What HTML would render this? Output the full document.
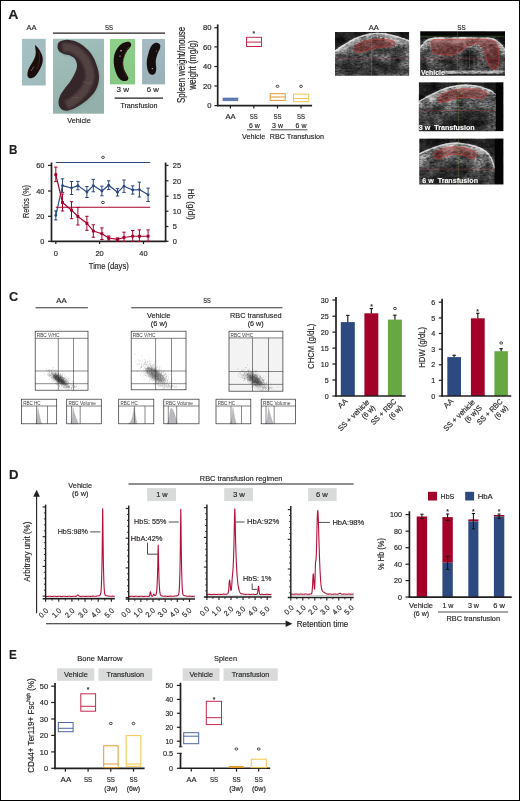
<!DOCTYPE html>
<html lang="en">
<head>
<meta charset="utf-8">
<title>Figure: RBC transfusion in SS mice</title>
<style>
html,body{margin:0;padding:0;background:#fff;}
body{width:520px;height:801px;overflow:hidden;}
svg{display:block;will-change:transform;opacity:0.999;font-family:"Liberation Sans",sans-serif;fill:#231f20;}
svg text{white-space:pre;stroke:#231f20;stroke-width:0.16px;}
svg text.w{stroke:#fff;stroke-width:0.12px;}
svg text.s{stroke:none;}
</style>
</head>
<body>
<svg width="520" height="801" viewBox="0 0 520 801">
<defs>
  <filter id="b03" x="-10%" y="-10%" width="120%" height="120%"><feGaussianBlur stdDeviation="0.3"/></filter>
  <filter id="b05" x="-10%" y="-10%" width="120%" height="120%"><feGaussianBlur stdDeviation="0.5"/></filter>
  <filter id="b1" x="-20%" y="-20%" width="140%" height="140%"><feGaussianBlur stdDeviation="1"/></filter>
  <filter id="b2" x="-30%" y="-30%" width="160%" height="160%"><feGaussianBlur stdDeviation="2"/></filter>
  <filter id="b4" x="-40%" y="-40%" width="180%" height="180%"><feGaussianBlur stdDeviation="4"/></filter>
  <!-- ultrasound speckle: grey fractal noise -->
  <filter id="speckle" x="0" y="0" width="100%" height="100%" color-interpolation-filters="sRGB">
    <feTurbulence type="fractalNoise" baseFrequency="0.33 0.62" numOctaves="3" seed="11" result="n"/>
    <feColorMatrix in="n" type="matrix" values="0.85 0.85 0.85 0 -0.775  0.85 0.85 0.85 0 -0.775  0.85 0.85 0.85 0 -0.775  0 0 0 0 1"/>
  </filter>
  <filter id="speckle2" x="0" y="0" width="100%" height="100%" color-interpolation-filters="sRGB">
    <feTurbulence type="fractalNoise" baseFrequency="0.3 0.58" numOctaves="3" seed="29" result="n"/>
    <feColorMatrix in="n" type="matrix" values="0.85 0.85 0.85 0 -0.775  0.85 0.85 0.85 0 -0.775  0.85 0.85 0.85 0 -0.775  0 0 0 0 1"/>
  </filter>
  <filter id="blotch" x="0" y="0" width="100%" height="100%" color-interpolation-filters="sRGB">
    <feTurbulence type="fractalNoise" baseFrequency="0.07 0.11" numOctaves="2" seed="5" result="n"/>
    <feColorMatrix in="n" type="matrix" values="1.1 1.1 1.1 0 -1.15  1.1 1.1 1.1 0 -1.15  1.1 1.1 1.1 0 -1.15  0 0 0 0 1"/>
  </filter>
  <pattern id="hatch" width="1.7" height="1.7" patternUnits="userSpaceOnUse" patternTransform="rotate(32)">
    <rect width="1.7" height="1.7" fill="#5c1a1c" fill-opacity="0.3"/>
    <line x1="0" y1="0.85" x2="1.7" y2="0.85" stroke="#c83232" stroke-width="0.36" stroke-opacity="0.7"/>
    <line x1="0.85" y1="0" x2="0.85" y2="1.7" stroke="#8c2020" stroke-width="0.32" stroke-opacity="0.6"/>
  </pattern>
  <linearGradient id="gTis" x1="0" y1="0" x2="0" y2="1">
    <stop offset="0" stop-color="#787878"/><stop offset="0.35" stop-color="#5a5a5a"/><stop offset="0.7" stop-color="#474747"/><stop offset="1" stop-color="#3c3c3c"/>
  </linearGradient>
  <linearGradient id="gAA" x1="0" y1="0" x2="1" y2="1">
    <stop offset="0" stop-color="#a6c1c3"/><stop offset="1" stop-color="#a0babc"/>
  </linearGradient>
  <linearGradient id="gVeh" x1="0" y1="0" x2="0.3" y2="1">
    <stop offset="0" stop-color="#a3c0bd"/><stop offset="1" stop-color="#93b1aa"/>
  </linearGradient>
  <linearGradient id="g3w" x1="0" y1="0" x2="0.2" y2="1">
    <stop offset="0" stop-color="#8ed18b"/><stop offset="1" stop-color="#86c884"/>
  </linearGradient>
  <linearGradient id="g6w" x1="0" y1="0" x2="0.2" y2="1">
    <stop offset="0" stop-color="#a3bbc1"/><stop offset="1" stop-color="#9bb2b8"/>
  </linearGradient>
  <radialGradient id="gSpl" cx="0.55" cy="0.45" r="0.6">
    <stop offset="0" stop-color="#3d2b2c"/><stop offset="0.6" stop-color="#2c1c1e"/><stop offset="1" stop-color="#1e1214"/>
  </radialGradient>
</defs>

<rect x="0" y="0" width="520" height="801" fill="#fff"/>
<!-- Panel A -->
<text x="8.2" y="19.3" font-size="12.2" textLength="10.2" lengthAdjust="spacingAndGlyphs" font-weight="bold">A</text>
<text x="26.5" y="30.2" font-size="7.6" textLength="10" lengthAdjust="spacingAndGlyphs">AA</text>
<text x="105" y="30.2" font-size="7.6" textLength="8" lengthAdjust="spacingAndGlyphs">SS</text>
<line x1="52.9" y1="33.1" x2="165" y2="33.1" stroke="#231f20" stroke-width="1.3"/>
<rect x="22" y="38.8" width="23.7" height="46.7" fill="url(#gAA)"/>
<path d="M35.2 45.2C35.58 45.12 36.75 46.45 37.6 47.5C38.45 48.55 39.5 50 40.3 51.5C41.1 53 42 54.83 42.4 56.5C42.8 58.17 42.93 59.75 42.7 61.5C42.47 63.25 41.78 65.17 41 67C40.22 68.83 39.08 70.87 38 72.5C36.92 74.13 35.75 75.83 34.5 76.8C33.25 77.77 31.62 78.35 30.5 78.3C29.38 78.25 28.28 77.47 27.8 76.5C27.32 75.53 27.35 74 27.6 72.5C27.85 71 28.52 69.17 29.3 67.5C30.08 65.83 31.38 64.17 32.3 62.5C33.22 60.83 34.22 59.17 34.8 57.5C35.38 55.83 35.72 54.08 35.8 52.5C35.88 50.92 35.4 49.22 35.3 48C35.2 46.78 34.82 45.28 35.2 45.2Z" fill="#1d0c11" filter="url(#b05)"/>
<path d="M38.6 52 C40.6 57 40 63 36.5 69" stroke="#4d2c33" stroke-width="1" fill="none" opacity="0.75" filter="url(#b05)"/>
<path d="M31 71 L34 66.5" stroke="#bfb0b4" stroke-width="0.6" fill="none" opacity="0.8" filter="url(#b03)"/>
<rect x="53" y="38.8" width="51" height="74.9" fill="url(#gVeh)"/>
<g transform="translate(45 30) scale(0.25)">
<path d="M50 66C50.33 59.83 51 51.5 58 47C65 42.5 78.33 37.83 92 39C105.67 40.17 124.67 44.83 140 54C155.33 63.17 172.5 78.33 184 94C195.5 109.67 203.67 131 209 148C214.33 165 217.17 180.33 216 196C214.83 211.67 210.33 227.67 202 242C193.67 256.33 179.33 270.5 166 282C152.67 293.5 135.33 304.17 122 311C108.67 317.83 95.83 322.5 86 323C76.17 323.5 68.33 319.33 63 314C57.67 308.67 54.5 299.33 54 291C53.5 282.67 56.33 272.83 60 264C63.67 255.17 69.67 247 76 238C82.33 229 91 220.33 98 210C105 199.67 113 187 118 176C123 165 127.67 154 128 144C128.33 134 124.67 123 120 116C115.33 109 107.33 105.33 100 102C92.67 98.67 83.33 99 76 96C68.67 93 60.33 89 56 84C51.67 79 49.67 72.17 50 66Z" fill="#7f9a95" opacity="0.55" transform="translate(5 6)" filter="url(#b4)"/>
<path d="M50 66C50.33 59.83 51 51.5 58 47C65 42.5 78.33 37.83 92 39C105.67 40.17 124.67 44.83 140 54C155.33 63.17 172.5 78.33 184 94C195.5 109.67 203.67 131 209 148C214.33 165 217.17 180.33 216 196C214.83 211.67 210.33 227.67 202 242C193.67 256.33 179.33 270.5 166 282C152.67 293.5 135.33 304.17 122 311C108.67 317.83 95.83 322.5 86 323C76.17 323.5 68.33 319.33 63 314C57.67 308.67 54.5 299.33 54 291C53.5 282.67 56.33 272.83 60 264C63.67 255.17 69.67 247 76 238C82.33 229 91 220.33 98 210C105 199.67 113 187 118 176C123 165 127.67 154 128 144C128.33 134 124.67 123 120 116C115.33 109 107.33 105.33 100 102C92.67 98.67 83.33 99 76 96C68.67 93 60.33 89 56 84C51.67 79 49.67 72.17 50 66Z" fill="#34272a" filter="url(#b2)"/>
<path d="M70 70 C120 62 175 110 180 180 C180 230 130 280 85 300" stroke="#5a4946" stroke-width="36" fill="none" opacity="0.8" filter="url(#b4)"/>
<path d="M150 205 C165 215 180 215 190 208" stroke="#7a6258" stroke-width="3" fill="none" opacity="0.7" filter="url(#b2)"/>
<path d="M108 272 C118 268 128 268 136 272" stroke="#7a6258" stroke-width="3" fill="none" opacity="0.7" filter="url(#b2)"/>
</g>
<text x="67.3" y="123" font-size="7.6" textLength="23.5" lengthAdjust="spacingAndGlyphs">Vehicle</text>
<rect x="110" y="39" width="25" height="45.4" fill="url(#g3w)"/>
<g transform="translate(105 35) scale(0.125)">
<path d="M172 56C183.67 52.83 189.83 54.17 196 57C202.17 59.83 208.17 66.17 209 73C209.83 79.83 207.17 87.67 201 98C194.83 108.33 180.83 119.67 172 135C163.17 150.33 151.83 168.83 148 190C144.17 211.17 144.33 240.33 149 262C153.67 283.67 169.67 305.83 176 320C182.33 334.17 187.83 339.33 187 347C186.17 354.67 178.83 363 171 366C163.17 369 151.17 370.17 140 365C128.83 359.83 114.33 351.17 104 335C93.67 318.83 83.67 291.33 78 268C72.33 244.67 68.67 218.33 70 195C71.33 171.67 76.67 147.83 86 128C95.33 108.17 111.67 88 126 76C140.33 64 160.33 59.17 172 56Z" fill="#16080b" filter="url(#b4)"/>
<path d="M190 96 C172 120 154 152 150 188" stroke="#6a3a30" stroke-width="7" fill="none" opacity="0.8" filter="url(#b2)"/>
<path d="M140 215 C138 255 152 300 176 338" stroke="#5a2e28" stroke-width="7" fill="none" opacity="0.7" filter="url(#b2)"/>
<circle cx="128" cy="126" r="6" fill="#e8e4e4" filter="url(#b2)"/>
<circle cx="120" cy="168" r="5" fill="#cfc6c6" filter="url(#b2)"/>
</g>
<rect x="142.1" y="39" width="22.9" height="45.4" fill="url(#g6w)"/>
<g transform="translate(105 35) scale(0.125)">
<path d="M400 64C410 59.67 421 62.67 428 66C435 69.33 440.33 76.33 442 84C443.67 91.67 441.67 100.67 438 112C434.33 123.33 425.33 136 420 152C414.67 168 407.67 188.33 406 208C404.33 227.67 410.67 254 410 270C409.33 286 406.67 296 402 304C397.33 312 389 316.67 382 318C375 319.33 366.67 318 360 312C353.33 306 346.33 298.17 342 282C337.67 265.83 333 237.83 334 215C335 192.17 342.33 165.5 348 145C353.67 124.5 359.33 105.5 368 92C376.67 78.5 390 68.33 400 64Z" fill="#18080d" filter="url(#b4)"/>
<circle cx="378" cy="268" r="5" fill="#d9d0d2" filter="url(#b2)"/>
<circle cx="412" cy="128" r="4" fill="#a89a9c" filter="url(#b2)"/>
</g>
<text x="116.5" y="92" font-size="7.6" textLength="12.5" lengthAdjust="spacingAndGlyphs">3 w</text>
<text x="146.7" y="92" font-size="7.6" textLength="12.1" lengthAdjust="spacingAndGlyphs">6 w</text>
<line x1="114.6" y1="98.1" x2="163" y2="98.1" stroke="#231f20" stroke-width="1.3"/>
<text x="120.4" y="108" font-size="7.6" textLength="37.1" lengthAdjust="spacingAndGlyphs">Transfusion</text>
<text transform="translate(184.6 103) rotate(-90)" font-size="10.3" textLength="76.2" lengthAdjust="spacingAndGlyphs">Spleen weight/mouse</text>
<text transform="translate(195.8 89.8) rotate(-90)" font-size="10.3" textLength="49.6" lengthAdjust="spacingAndGlyphs">weight (mg/g)</text>
<line x1="217.7" y1="24.4" x2="217.7" y2="106.25" stroke="#231f20" stroke-width="1.7"/>
<line x1="217.05" y1="105.6" x2="312.1" y2="105.6" stroke="#231f20" stroke-width="1.7"/>
<line x1="214.4" y1="27.7" x2="217.7" y2="27.7" stroke="#231f20" stroke-width="1.2"/>
<text x="211.6" y="30.35" font-size="7.4" text-anchor="end" textLength="8.5" lengthAdjust="spacingAndGlyphs">80</text>
<line x1="214.4" y1="46.9" x2="217.7" y2="46.9" stroke="#231f20" stroke-width="1.2"/>
<text x="211.6" y="49.55" font-size="7.4" text-anchor="end" textLength="8.5" lengthAdjust="spacingAndGlyphs">60</text>
<line x1="214.4" y1="66.5" x2="217.7" y2="66.5" stroke="#231f20" stroke-width="1.2"/>
<text x="211.6" y="69.15" font-size="7.4" text-anchor="end" textLength="8.5" lengthAdjust="spacingAndGlyphs">40</text>
<line x1="214.4" y1="86" x2="217.7" y2="86" stroke="#231f20" stroke-width="1.2"/>
<text x="211.6" y="88.65" font-size="7.4" text-anchor="end" textLength="8.5" lengthAdjust="spacingAndGlyphs">20</text>
<line x1="214.4" y1="105.6" x2="217.7" y2="105.6" stroke="#231f20" stroke-width="1.2"/>
<text x="211.6" y="108.25" font-size="7.4" text-anchor="end" textLength="4.25" lengthAdjust="spacingAndGlyphs">0</text>
<line x1="230.4" y1="105.6" x2="230.4" y2="108.5" stroke="#231f20" stroke-width="1.2"/>
<line x1="253.8" y1="105.6" x2="253.8" y2="108.5" stroke="#231f20" stroke-width="1.2"/>
<line x1="277.5" y1="105.6" x2="277.5" y2="108.5" stroke="#231f20" stroke-width="1.2"/>
<line x1="301" y1="105.6" x2="301" y2="108.5" stroke="#231f20" stroke-width="1.2"/>
<rect x="223" y="98" width="14.9" height="2.8" fill="#5f7bb0" stroke="#4f6ca6" stroke-width="0.6"/>
<rect x="246.5" y="37.3" width="15" height="9.2" fill="none" stroke="#c4284f" stroke-width="1"/>
<line x1="246.5" y1="42.1" x2="261.5" y2="42.1" stroke="#c4284f" stroke-width="1"/>
<text x="253.8" y="35.5" font-size="6.8" text-anchor="middle" font-weight="bold" class="s">*</text>
<rect x="270.2" y="93.7" width="15" height="6.7" fill="none" stroke="#e29a2e" stroke-width="1"/>
<line x1="270.2" y1="97" x2="285.2" y2="97" stroke="#e29a2e" stroke-width="1"/>
<rect x="293.5" y="94.2" width="15.2" height="7.5" fill="none" stroke="#f1c74c" stroke-width="1"/>
<line x1="293.5" y1="98.5" x2="308.7" y2="98.5" stroke="#f1c74c" stroke-width="1"/>
<ellipse cx="277.5" cy="86.3" rx="1.45" ry="1.15" fill="none" stroke="#231f20" stroke-width="0.8"/>
<ellipse cx="301" cy="86.3" rx="1.45" ry="1.15" fill="none" stroke="#231f20" stroke-width="0.8"/>
<text x="225.4" y="119" font-size="7.6" textLength="10.2" lengthAdjust="spacingAndGlyphs">AA</text>
<text x="249.8" y="119" font-size="7.6" textLength="8" lengthAdjust="spacingAndGlyphs">SS</text>
<text x="273.5" y="119" font-size="7.6" textLength="8" lengthAdjust="spacingAndGlyphs">SS</text>
<text x="297" y="119" font-size="7.6" textLength="8" lengthAdjust="spacingAndGlyphs">SS</text>
<text x="248.9" y="128.3" font-size="7.6" textLength="10.8" lengthAdjust="spacingAndGlyphs">6 w</text>
<text x="272.1" y="128.3" font-size="7.6" textLength="10.8" lengthAdjust="spacingAndGlyphs">3 w</text>
<text x="295.6" y="128.3" font-size="7.6" textLength="10.8" lengthAdjust="spacingAndGlyphs">6 w</text>
<line x1="247" y1="129.8" x2="261" y2="129.8" stroke="#231f20" stroke-width="0.8"/>
<line x1="270.8" y1="129.8" x2="307.3" y2="129.8" stroke="#231f20" stroke-width="0.8"/>
<text x="242" y="138.5" font-size="7.6" textLength="23.4" lengthAdjust="spacingAndGlyphs">Vehicle</text>
<text x="269.8" y="138.5" font-size="7.6" textLength="54.2" lengthAdjust="spacingAndGlyphs">RBC Transfusion</text>
<text x="368.8" y="29.8" font-size="7.6" textLength="10" lengthAdjust="spacingAndGlyphs">AA</text>
<text x="457.3" y="29.8" font-size="7.6" textLength="8.3" lengthAdjust="spacingAndGlyphs">SS</text>
<clipPath id="cpa"><rect x="335" y="31.9" width="74.2" height="43.9"/></clipPath>
<g clip-path="url(#cpa)">
<rect x="335" y="31.9" width="74.2" height="43.9" fill="#1c1c1c"/>
<path d="M335 51.5C336.67 50.33 341.33 46.75 345 44.5C348.67 42.25 352.83 39.75 357 38C361.17 36.25 365.67 34.7 370 34C374.33 33.3 378.67 33.38 383 33.8C387.33 34.22 391.58 35.3 396 36.5C400.42 37.7 407.25 40.25 409.5 41L409.5 78.8 L335 78.8 Z" fill="url(#gTis)" filter="url(#b05)"/>
<ellipse cx="372" cy="68" rx="24" ry="6" fill="#262626" opacity="0.8" filter="url(#b2)"/>
<ellipse cx="350" cy="62" rx="10" ry="5" fill="#303030" opacity="0.6" filter="url(#b2)"/>
<ellipse cx="398" cy="55" rx="8" ry="8" fill="#333" opacity="0.5" filter="url(#b2)"/>
<ellipse cx="365" cy="55" rx="9" ry="3" fill="#2e2e2e" opacity="0.5" filter="url(#b2)"/>
<path d="M335 51.5C336.67 50.33 341.33 46.75 345 44.5C348.67 42.25 352.83 39.75 357 38C361.17 36.25 365.67 34.7 370 34C374.33 33.3 378.67 33.38 383 33.8C387.33 34.22 391.58 35.3 396 36.5C400.42 37.7 407.25 40.25 409.5 41" fill="none" stroke="#b0b0b0" stroke-width="5.5" opacity="0.55" filter="url(#b1)" transform="translate(0 2.6)"/>
<path d="M335 51.5C336.67 50.33 341.33 46.75 345 44.5C348.67 42.25 352.83 39.75 357 38C361.17 36.25 365.67 34.7 370 34C374.33 33.3 378.67 33.38 383 33.8C387.33 34.22 391.58 35.3 396 36.5C400.42 37.7 407.25 40.25 409.5 41" fill="none" stroke="#d4d4d4" stroke-width="1.5" filter="url(#b05)"/>
<rect x="335" y="31.9" width="74.2" height="43.9" filter="url(#blotch)" opacity="0.55" style="mix-blend-mode:overlay"/>
<rect x="335" y="31.9" width="74.2" height="43.9" filter="url(#speckle)" opacity="0.5" style="mix-blend-mode:overlay"/>
<path d="M353.5 49C353.5 47.5 355.58 44.95 358 43.5C360.42 42.05 364.17 41.05 368 40.3C371.83 39.55 377 38.97 381 39C385 39.03 389.67 39.75 392 40.5C394.33 41.25 395.33 42.5 395 43.5C394.67 44.5 392.83 45.83 390 46.5C387.17 47.17 381.83 46.83 378 47.5C374.17 48.17 370.33 49.67 367 50.5C363.67 51.33 360.25 52.75 358 52.5C355.75 52.25 353.5 50.5 353.5 49Z" fill="url(#hatch)" stroke="#d63c3c" stroke-width="0.7" stroke-opacity="0.9"/>
<line x1="371.5" y1="31.9" x2="371.5" y2="75.8" stroke="#6f9a4a" stroke-width="0.45" opacity="0.75"/>
<line x1="335" y1="58.3" x2="409.2" y2="58.3" stroke="#b04050" stroke-width="0.45" opacity="0.8"/>
</g>
<clipPath id="cpb"><rect x="420.2" y="31.3" width="84.8" height="44.5"/></clipPath>
<g clip-path="url(#cpb)">
<rect x="420.2" y="31.3" width="84.8" height="44.5" fill="#1c1c1c"/>
<path d="M420.2 48.5C420.83 47.58 422.62 44.48 424 43C425.38 41.52 426.5 40.4 428.5 39.6C430.5 38.8 430.75 38.48 436 38.2C441.25 37.92 451.83 37.93 460 37.9C468.17 37.87 479.58 37.85 485 38C490.42 38.15 490.25 38.13 492.5 38.8C494.75 39.47 496.75 40.63 498.5 42C500.25 43.37 501.83 45.5 503 47C504.17 48.5 505.08 50.33 505.5 51L505.5 78.8 L420.2 78.8 Z" fill="url(#gTis)" filter="url(#b05)"/>
<ellipse cx="471.5" cy="59" rx="7.5" ry="9.5" fill="#141414" opacity="0.9" filter="url(#b2)"/>
<ellipse cx="446" cy="64" rx="13" ry="4.5" fill="#2a2a2a" opacity="0.7" filter="url(#b2)"/>
<ellipse cx="502" cy="60" rx="3.5" ry="9" fill="#333" opacity="0.5" filter="url(#b2)"/>
<ellipse cx="426" cy="52" rx="4" ry="4" fill="#2c2c2c" opacity="0.5" filter="url(#b2)"/>
<rect x="444" y="70.6" width="62" height="3.4" fill="#b8b8b8" opacity="0.8" filter="url(#b05)"/>
<rect x="420" y="73.6" width="86" height="2.4" fill="#222" opacity="0.8"/>
<path d="M466 50V68M469.5 48V69M474 51V68M478 53V67" stroke="#9a9a9a" stroke-width="0.6" opacity="0.4" filter="url(#b03)"/>
<path d="M420.2 48.5C420.83 47.58 422.62 44.48 424 43C425.38 41.52 426.5 40.4 428.5 39.6C430.5 38.8 430.75 38.48 436 38.2C441.25 37.92 451.83 37.93 460 37.9C468.17 37.87 479.58 37.85 485 38C490.42 38.15 490.25 38.13 492.5 38.8C494.75 39.47 496.75 40.63 498.5 42C500.25 43.37 501.83 45.5 503 47C504.17 48.5 505.08 50.33 505.5 51" fill="none" stroke="#b0b0b0" stroke-width="5.5" opacity="0.55" filter="url(#b1)" transform="translate(0 2.6)"/>
<path d="M420.2 48.5C420.83 47.58 422.62 44.48 424 43C425.38 41.52 426.5 40.4 428.5 39.6C430.5 38.8 430.75 38.48 436 38.2C441.25 37.92 451.83 37.93 460 37.9C468.17 37.87 479.58 37.85 485 38C490.42 38.15 490.25 38.13 492.5 38.8C494.75 39.47 496.75 40.63 498.5 42C500.25 43.37 501.83 45.5 503 47C504.17 48.5 505.08 50.33 505.5 51" fill="none" stroke="#c8c8c8" stroke-width="1.2" filter="url(#b05)"/>
<rect x="420.2" y="31.3" width="84.8" height="44.5" filter="url(#blotch)" opacity="0.55" style="mix-blend-mode:overlay"/>
<rect x="420.2" y="31.3" width="84.8" height="44.5" filter="url(#speckle2)" opacity="0.5" style="mix-blend-mode:overlay"/>
<path d="M431.8 40.4C433.27 39.15 435.3 39.7 440 39.5C444.7 39.3 453.33 39.25 460 39.2C466.67 39.15 474.6 39 480 39.2C485.4 39.4 489.47 39.43 492.4 40.4C495.33 41.37 496.5 42.73 497.6 45C498.7 47.27 498.8 51 499 54C499.2 57 499.18 60.63 498.8 63C498.42 65.37 497.58 67.17 496.7 68.2C495.82 69.23 494.53 69.32 493.5 69.2C492.47 69.08 491.58 68.87 490.5 67.5C489.42 66.13 487.98 63.58 487 61C486.02 58.42 485.52 54.53 484.6 52C483.68 49.47 482.85 47.2 481.5 45.8C480.15 44.4 478.42 43.73 476.5 43.6C474.58 43.47 472.17 44.07 470 45C467.83 45.93 465.58 47.83 463.5 49.2C461.42 50.57 459.58 52.23 457.5 53.2C455.42 54.17 453.92 54.8 451 55C448.08 55.2 442.97 54.73 440 54.4C437.03 54.07 434.67 54.23 433.2 53C431.73 51.77 431.43 49.1 431.2 47C430.97 44.9 430.33 41.65 431.8 40.4Z" fill="url(#hatch)" stroke="#d63c3c" stroke-width="0.7" stroke-opacity="0.9"/>
<rect x="420.2" y="31.3" width="84.8" height="4.9" fill="#050505"/>
<line x1="420.2" y1="36.2" x2="505" y2="36.2" stroke="#4c7a30" stroke-width="0.4"/>
<line x1="457.7" y1="31.3" x2="457.7" y2="75.8" stroke="#3fa0a8" stroke-width="0.45" opacity="0.75"/>
<line x1="420.2" y1="58.8" x2="505" y2="58.8" stroke="#b04050" stroke-width="0.45" opacity="0.8"/>
</g>
<text x="421" y="75.4" font-size="7.2" textLength="23.8" lengthAdjust="spacingAndGlyphs" font-weight="bold" fill="#ffffff" class="w">Vehicle</text>
<clipPath id="cpc"><rect x="418.8" y="82.3" width="84.7" height="48.9"/></clipPath>
<g clip-path="url(#cpc)">
<rect x="418.8" y="82.3" width="84.7" height="48.9" fill="#1c1c1c"/>
<path d="M418.8 101.5C420.33 100.67 424.47 98.28 428 96.5C431.53 94.72 436 92.42 440 90.8C444 89.18 448 87.72 452 86.8C456 85.88 459.67 85.35 464 85.3C468.33 85.25 473.67 85.63 478 86.5C482.33 87.37 487 89.17 490 90.5C493 91.83 495 93.83 496 94.5L496 134.2 L418.8 134.2 Z" fill="url(#gTis)" filter="url(#b05)"/>
<ellipse cx="470" cy="118" rx="22" ry="8" fill="#262626" opacity="0.85" filter="url(#b2)"/>
<ellipse cx="436" cy="112" rx="12" ry="6" fill="#303030" opacity="0.6" filter="url(#b2)"/>
<ellipse cx="462" cy="104" rx="5" ry="4" fill="#2c2c2c" opacity="0.7" filter="url(#b2)"/>
<ellipse cx="448" cy="129" rx="32" ry="4.5" fill="#181818" opacity="0.8" filter="url(#b2)"/>
<path d="M418.8 101.5C420.33 100.67 424.47 98.28 428 96.5C431.53 94.72 436 92.42 440 90.8C444 89.18 448 87.72 452 86.8C456 85.88 459.67 85.35 464 85.3C468.33 85.25 473.67 85.63 478 86.5C482.33 87.37 487 89.17 490 90.5C493 91.83 495 93.83 496 94.5" fill="none" stroke="#b0b0b0" stroke-width="5.5" opacity="0.55" filter="url(#b1)" transform="translate(0 2.6)"/>
<path d="M418.8 101.5C420.33 100.67 424.47 98.28 428 96.5C431.53 94.72 436 92.42 440 90.8C444 89.18 448 87.72 452 86.8C456 85.88 459.67 85.35 464 85.3C468.33 85.25 473.67 85.63 478 86.5C482.33 87.37 487 89.17 490 90.5C493 91.83 495 93.83 496 94.5" fill="none" stroke="#d4d4d4" stroke-width="1.5" filter="url(#b05)"/>
<rect x="418.8" y="82.3" width="84.7" height="48.9" filter="url(#blotch)" opacity="0.55" style="mix-blend-mode:overlay"/>
<rect x="418.8" y="82.3" width="84.7" height="48.9" filter="url(#speckle)" opacity="0.5" style="mix-blend-mode:overlay"/>
<path d="M437.5 100C437.5 98.78 438.75 96.53 441 95C443.25 93.47 447.33 91.83 451 90.8C454.67 89.77 458.67 89.05 463 88.8C467.33 88.55 473.25 88.77 477 89.3C480.75 89.83 483.92 90.97 485.5 92C487.08 93.03 487.25 94.42 486.5 95.5C485.75 96.58 483.75 98.2 481 98.5C478.25 98.8 473.67 97.42 470 97.3C466.33 97.18 462.5 97.25 459 97.8C455.5 98.35 452 99.85 449 100.6C446 101.35 442.92 102.4 441 102.3C439.08 102.2 437.5 101.22 437.5 100Z" fill="url(#hatch)" stroke="#d63c3c" stroke-width="0.7" stroke-opacity="0.9"/>
<rect x="495.8" y="82.3" width="7.7" height="48.9" fill="#050505"/>
<line x1="458.3" y1="82.3" x2="458.3" y2="131.2" stroke="#6f9a4a" stroke-width="0.45" opacity="0.75"/>
<line x1="418.8" y1="110.6" x2="495.8" y2="110.6" stroke="#b04050" stroke-width="0.45" opacity="0.8"/>
</g>
<text x="418.8" y="129.8" font-size="7.2" textLength="55.8" lengthAdjust="spacingAndGlyphs" font-weight="bold" fill="#ffffff" class="w">3 w  Transfusion</text>
<clipPath id="cpd"><rect x="419.2" y="138.5" width="84.3" height="46.1"/></clipPath>
<g clip-path="url(#cpd)">
<rect x="419.2" y="138.5" width="84.3" height="46.1" fill="#1c1c1c"/>
<path d="M419.2 154C420.67 153.33 424.87 151.3 428 150C431.13 148.7 434.33 147.27 438 146.2C441.67 145.13 446 144.05 450 143.6C454 143.15 458 143.1 462 143.5C466 143.9 470.17 144.75 474 146C477.83 147.25 482.17 149 485 151C487.83 153 489.42 155.17 491 158C492.58 160.83 493.92 166.33 494.5 168L494.5 187.6 L419.2 187.6 Z" fill="url(#gTis)" filter="url(#b05)"/>
<ellipse cx="452" cy="172" rx="16" ry="9" fill="#222" opacity="0.85" filter="url(#b2)"/>
<ellipse cx="478" cy="176" rx="10" ry="6" fill="#2c2c2c" opacity="0.6" filter="url(#b2)"/>
<ellipse cx="430" cy="168" rx="8" ry="5" fill="#333" opacity="0.5" filter="url(#b2)"/>
<ellipse cx="452" cy="182.5" rx="32" ry="3.5" fill="#181818" opacity="0.7" filter="url(#b2)"/>
<path d="M419.2 154C420.67 153.33 424.87 151.3 428 150C431.13 148.7 434.33 147.27 438 146.2C441.67 145.13 446 144.05 450 143.6C454 143.15 458 143.1 462 143.5C466 143.9 470.17 144.75 474 146C477.83 147.25 482.17 149 485 151C487.83 153 489.42 155.17 491 158C492.58 160.83 493.92 166.33 494.5 168" fill="none" stroke="#b0b0b0" stroke-width="5.5" opacity="0.55" filter="url(#b1)" transform="translate(0 2.6)"/>
<path d="M419.2 154C420.67 153.33 424.87 151.3 428 150C431.13 148.7 434.33 147.27 438 146.2C441.67 145.13 446 144.05 450 143.6C454 143.15 458 143.1 462 143.5C466 143.9 470.17 144.75 474 146C477.83 147.25 482.17 149 485 151C487.83 153 489.42 155.17 491 158C492.58 160.83 493.92 166.33 494.5 168" fill="none" stroke="#d4d4d4" stroke-width="1.5" filter="url(#b05)"/>
<rect x="419.2" y="138.5" width="84.3" height="46.1" filter="url(#blotch)" opacity="0.55" style="mix-blend-mode:overlay"/>
<rect x="419.2" y="138.5" width="84.3" height="46.1" filter="url(#speckle2)" opacity="0.5" style="mix-blend-mode:overlay"/>
<path d="M433.5 156C433.25 154.75 434.58 152.8 436.5 151.5C438.42 150.2 441.75 148.98 445 148.2C448.25 147.42 452.33 146.8 456 146.8C459.67 146.8 463.83 147.33 467 148.2C470.17 149.07 473.5 150.62 475 152C476.5 153.38 476.5 155.37 476 156.5C475.5 157.63 474 158.97 472 158.8C470 158.63 466.83 156.25 464 155.5C461.17 154.75 458 154.22 455 154.3C452 154.38 448.83 155.22 446 156C443.17 156.78 440.08 159 438 159C435.92 159 433.75 157.25 433.5 156Z" fill="url(#hatch)" stroke="#d63c3c" stroke-width="0.7" stroke-opacity="0.9"/>
<rect x="494.8" y="138.5" width="8.7" height="46.1" fill="#050505"/>
<line x1="458.3" y1="138.5" x2="458.3" y2="184.6" stroke="#6f9a4a" stroke-width="0.45" opacity="0.75"/>
<line x1="419.2" y1="169.2" x2="494.8" y2="169.2" stroke="#b04050" stroke-width="0.45" opacity="0.8"/>
</g>
<text x="422.3" y="182.7" font-size="7.2" textLength="55.7" lengthAdjust="spacingAndGlyphs" font-weight="bold" fill="#ffffff" class="w">6 w  Transfusion</text>
<!-- Panel B -->
<text x="8.9" y="153.9" font-size="12.2" textLength="8.4" lengthAdjust="spacingAndGlyphs" font-weight="bold">B</text>
<line x1="51.5" y1="162.5" x2="51.5" y2="241.95" stroke="#231f20" stroke-width="1.7"/>
<line x1="50.85" y1="241.3" x2="166.25" y2="241.3" stroke="#231f20" stroke-width="1.7"/>
<line x1="165.6" y1="162.5" x2="165.6" y2="241.95" stroke="#231f20" stroke-width="1.7"/>
<line x1="48" y1="165.4" x2="51.5" y2="165.4" stroke="#231f20" stroke-width="1.2"/>
<text x="44.4" y="168.25" font-size="8" text-anchor="end" textLength="8.2" lengthAdjust="spacingAndGlyphs">60</text>
<line x1="48" y1="191" x2="51.5" y2="191" stroke="#231f20" stroke-width="1.2"/>
<text x="44.4" y="193.85" font-size="8" text-anchor="end" textLength="8.2" lengthAdjust="spacingAndGlyphs">40</text>
<line x1="48" y1="216.3" x2="51.5" y2="216.3" stroke="#231f20" stroke-width="1.2"/>
<text x="44.4" y="219.15" font-size="8" text-anchor="end" textLength="8.2" lengthAdjust="spacingAndGlyphs">20</text>
<line x1="48" y1="241.3" x2="51.5" y2="241.3" stroke="#231f20" stroke-width="1.2"/>
<text x="44.4" y="244.15" font-size="8" text-anchor="end" textLength="4.1" lengthAdjust="spacingAndGlyphs">0</text>
<line x1="165.6" y1="165.4" x2="168.5" y2="165.4" stroke="#231f20" stroke-width="1.2"/>
<text x="172.8" y="168.25" font-size="8" textLength="8.3" lengthAdjust="spacingAndGlyphs">25</text>
<line x1="165.6" y1="180.8" x2="168.5" y2="180.8" stroke="#231f20" stroke-width="1.2"/>
<text x="172.8" y="183.65" font-size="8" textLength="8.3" lengthAdjust="spacingAndGlyphs">20</text>
<line x1="165.6" y1="196.2" x2="168.5" y2="196.2" stroke="#231f20" stroke-width="1.2"/>
<text x="172.8" y="199.05" font-size="8" textLength="8.3" lengthAdjust="spacingAndGlyphs">15</text>
<line x1="165.6" y1="211.2" x2="168.5" y2="211.2" stroke="#231f20" stroke-width="1.2"/>
<text x="172.8" y="214.05" font-size="8" textLength="8.3" lengthAdjust="spacingAndGlyphs">10</text>
<line x1="165.6" y1="226.5" x2="168.5" y2="226.5" stroke="#231f20" stroke-width="1.2"/>
<text x="172.8" y="229.35" font-size="8" textLength="4.15" lengthAdjust="spacingAndGlyphs">5</text>
<line x1="165.6" y1="241.3" x2="168.5" y2="241.3" stroke="#231f20" stroke-width="1.2"/>
<text x="172.8" y="244.15" font-size="8" textLength="4.15" lengthAdjust="spacingAndGlyphs">0</text>
<line x1="55.8" y1="241.3" x2="55.8" y2="244" stroke="#231f20" stroke-width="1.2"/>
<text x="53.73" y="255.5" font-size="8" textLength="4.15" lengthAdjust="spacingAndGlyphs">0</text>
<line x1="99.6" y1="241.3" x2="99.6" y2="244" stroke="#231f20" stroke-width="1.2"/>
<text x="95.46" y="255.5" font-size="8" textLength="8.3" lengthAdjust="spacingAndGlyphs">20</text>
<line x1="143.5" y1="241.3" x2="143.5" y2="244" stroke="#231f20" stroke-width="1.2"/>
<text x="139.36" y="255.5" font-size="8" textLength="8.3" lengthAdjust="spacingAndGlyphs">40</text>
<text transform="translate(29.2 218) rotate(-90)" font-size="9.2" textLength="33" lengthAdjust="spacingAndGlyphs">Retics (%)</text>
<text transform="translate(187.5 188.8) rotate(90)" font-size="9.4" textLength="30.8" lengthAdjust="spacingAndGlyphs">Hb (g/dl)</text>
<text x="88.75" y="269.25" font-size="9.4" textLength="40" lengthAdjust="spacingAndGlyphs">Time (days)</text>
<line x1="55.8" y1="162.5" x2="150.2" y2="162.5" stroke="#2a477f" stroke-width="1.1"/>
<line x1="55.8" y1="207.3" x2="150.2" y2="207.3" stroke="#a8002d" stroke-width="1.1"/>
<ellipse cx="103" cy="157.3" rx="1.45" ry="1.15" fill="none" stroke="#231f20" stroke-width="0.8"/>
<ellipse cx="103" cy="202.5" rx="1.45" ry="1.15" fill="none" stroke="#231f20" stroke-width="0.8"/>
<polyline fill="none" stroke="#2a477f" stroke-width="1.15" stroke-linejoin="round" points="55.8,215.4 62.5,185.6 71.5,188 77.9,185.6 86.9,192 93.3,185.6 101.9,191 108.7,185.2 117.5,192.3 124,186.2 132.7,190 139.4,189.6 148.1,194.8"/>
<line x1="55.8" y1="210.9" x2="55.8" y2="219.9" stroke="#2a477f" stroke-width="1"/>
<line x1="54.1" y1="210.9" x2="57.5" y2="210.9" stroke="#2a477f" stroke-width="1"/>
<line x1="54.1" y1="219.9" x2="57.5" y2="219.9" stroke="#2a477f" stroke-width="1"/>
<circle cx="55.8" cy="215.4" r="1.4" fill="#2a477f"/>
<line x1="62.5" y1="178.8" x2="62.5" y2="192.4" stroke="#2a477f" stroke-width="1"/>
<line x1="60.8" y1="178.8" x2="64.2" y2="178.8" stroke="#2a477f" stroke-width="1"/>
<line x1="60.8" y1="192.4" x2="64.2" y2="192.4" stroke="#2a477f" stroke-width="1"/>
<circle cx="62.5" cy="185.6" r="1.4" fill="#2a477f"/>
<line x1="71.5" y1="181.5" x2="71.5" y2="194.5" stroke="#2a477f" stroke-width="1"/>
<line x1="69.8" y1="181.5" x2="73.2" y2="181.5" stroke="#2a477f" stroke-width="1"/>
<line x1="69.8" y1="194.5" x2="73.2" y2="194.5" stroke="#2a477f" stroke-width="1"/>
<circle cx="71.5" cy="188" r="1.4" fill="#2a477f"/>
<line x1="77.9" y1="181.4" x2="77.9" y2="189.8" stroke="#2a477f" stroke-width="1"/>
<line x1="76.2" y1="181.4" x2="79.6" y2="181.4" stroke="#2a477f" stroke-width="1"/>
<line x1="76.2" y1="189.8" x2="79.6" y2="189.8" stroke="#2a477f" stroke-width="1"/>
<circle cx="77.9" cy="185.6" r="1.4" fill="#2a477f"/>
<line x1="86.9" y1="186.5" x2="86.9" y2="197.5" stroke="#2a477f" stroke-width="1"/>
<line x1="85.2" y1="186.5" x2="88.6" y2="186.5" stroke="#2a477f" stroke-width="1"/>
<line x1="85.2" y1="197.5" x2="88.6" y2="197.5" stroke="#2a477f" stroke-width="1"/>
<circle cx="86.9" cy="192" r="1.4" fill="#2a477f"/>
<line x1="93.3" y1="179.4" x2="93.3" y2="191.8" stroke="#2a477f" stroke-width="1"/>
<line x1="91.6" y1="179.4" x2="95" y2="179.4" stroke="#2a477f" stroke-width="1"/>
<line x1="91.6" y1="191.8" x2="95" y2="191.8" stroke="#2a477f" stroke-width="1"/>
<circle cx="93.3" cy="185.6" r="1.4" fill="#2a477f"/>
<line x1="101.9" y1="186.2" x2="101.9" y2="195.8" stroke="#2a477f" stroke-width="1"/>
<line x1="100.2" y1="186.2" x2="103.6" y2="186.2" stroke="#2a477f" stroke-width="1"/>
<line x1="100.2" y1="195.8" x2="103.6" y2="195.8" stroke="#2a477f" stroke-width="1"/>
<circle cx="101.9" cy="191" r="1.4" fill="#2a477f"/>
<line x1="108.7" y1="180.8" x2="108.7" y2="189.6" stroke="#2a477f" stroke-width="1"/>
<line x1="107" y1="180.8" x2="110.4" y2="180.8" stroke="#2a477f" stroke-width="1"/>
<line x1="107" y1="189.6" x2="110.4" y2="189.6" stroke="#2a477f" stroke-width="1"/>
<circle cx="108.7" cy="185.2" r="1.4" fill="#2a477f"/>
<line x1="117.5" y1="188.6" x2="117.5" y2="196" stroke="#2a477f" stroke-width="1"/>
<line x1="115.8" y1="188.6" x2="119.2" y2="188.6" stroke="#2a477f" stroke-width="1"/>
<line x1="115.8" y1="196" x2="119.2" y2="196" stroke="#2a477f" stroke-width="1"/>
<circle cx="117.5" cy="192.3" r="1.4" fill="#2a477f"/>
<line x1="124" y1="180" x2="124" y2="192.4" stroke="#2a477f" stroke-width="1"/>
<line x1="122.3" y1="180" x2="125.7" y2="180" stroke="#2a477f" stroke-width="1"/>
<line x1="122.3" y1="192.4" x2="125.7" y2="192.4" stroke="#2a477f" stroke-width="1"/>
<circle cx="124" cy="186.2" r="1.4" fill="#2a477f"/>
<line x1="132.7" y1="185.9" x2="132.7" y2="194.1" stroke="#2a477f" stroke-width="1"/>
<line x1="131" y1="185.9" x2="134.4" y2="185.9" stroke="#2a477f" stroke-width="1"/>
<line x1="131" y1="194.1" x2="134.4" y2="194.1" stroke="#2a477f" stroke-width="1"/>
<circle cx="132.7" cy="190" r="1.4" fill="#2a477f"/>
<line x1="139.4" y1="182.2" x2="139.4" y2="197" stroke="#2a477f" stroke-width="1"/>
<line x1="137.7" y1="182.2" x2="141.1" y2="182.2" stroke="#2a477f" stroke-width="1"/>
<line x1="137.7" y1="197" x2="141.1" y2="197" stroke="#2a477f" stroke-width="1"/>
<circle cx="139.4" cy="189.6" r="1.4" fill="#2a477f"/>
<line x1="148.1" y1="188.1" x2="148.1" y2="201.5" stroke="#2a477f" stroke-width="1"/>
<line x1="146.4" y1="188.1" x2="149.8" y2="188.1" stroke="#2a477f" stroke-width="1"/>
<line x1="146.4" y1="201.5" x2="149.8" y2="201.5" stroke="#2a477f" stroke-width="1"/>
<circle cx="148.1" cy="194.8" r="1.4" fill="#2a477f"/>
<polyline fill="none" stroke="#a8002d" stroke-width="1.15" stroke-linejoin="round" points="55.8,174.6 62.5,202.5 71.5,210.2 77.9,216.5 86.9,223.3 93.3,231 101.9,233.7 108.7,238 117.5,239.4 124,237.5 132.7,236.2 139.4,236.2 148.1,236.2"/>
<line x1="55.8" y1="167.1" x2="55.8" y2="181.6" stroke="#a8002d" stroke-width="1"/>
<line x1="54.1" y1="167.1" x2="57.5" y2="167.1" stroke="#a8002d" stroke-width="1"/>
<line x1="54.1" y1="181.6" x2="57.5" y2="181.6" stroke="#a8002d" stroke-width="1"/>
<rect x="54.35" y="173.15" width="2.9" height="2.9" fill="#a8002d"/>
<line x1="62.5" y1="194" x2="62.5" y2="211" stroke="#a8002d" stroke-width="1"/>
<line x1="60.8" y1="194" x2="64.2" y2="194" stroke="#a8002d" stroke-width="1"/>
<line x1="60.8" y1="211" x2="64.2" y2="211" stroke="#a8002d" stroke-width="1"/>
<rect x="61.05" y="201.05" width="2.9" height="2.9" fill="#a8002d"/>
<line x1="71.5" y1="201.7" x2="71.5" y2="218.7" stroke="#a8002d" stroke-width="1"/>
<line x1="69.8" y1="201.7" x2="73.2" y2="201.7" stroke="#a8002d" stroke-width="1"/>
<line x1="69.8" y1="218.7" x2="73.2" y2="218.7" stroke="#a8002d" stroke-width="1"/>
<rect x="70.05" y="208.75" width="2.9" height="2.9" fill="#a8002d"/>
<line x1="77.9" y1="207.5" x2="77.9" y2="225" stroke="#a8002d" stroke-width="1"/>
<line x1="76.2" y1="207.5" x2="79.6" y2="207.5" stroke="#a8002d" stroke-width="1"/>
<line x1="76.2" y1="225" x2="79.6" y2="225" stroke="#a8002d" stroke-width="1"/>
<rect x="76.45" y="215.05" width="2.9" height="2.9" fill="#a8002d"/>
<line x1="86.9" y1="216.3" x2="86.9" y2="230.3" stroke="#a8002d" stroke-width="1"/>
<line x1="85.2" y1="216.3" x2="88.6" y2="216.3" stroke="#a8002d" stroke-width="1"/>
<line x1="85.2" y1="230.3" x2="88.6" y2="230.3" stroke="#a8002d" stroke-width="1"/>
<rect x="85.45" y="221.85" width="2.9" height="2.9" fill="#a8002d"/>
<line x1="93.3" y1="224.8" x2="93.3" y2="237.2" stroke="#a8002d" stroke-width="1"/>
<line x1="91.6" y1="224.8" x2="95" y2="224.8" stroke="#a8002d" stroke-width="1"/>
<line x1="91.6" y1="237.2" x2="95" y2="237.2" stroke="#a8002d" stroke-width="1"/>
<rect x="91.85" y="229.55" width="2.9" height="2.9" fill="#a8002d"/>
<line x1="101.9" y1="227.9" x2="101.9" y2="239.5" stroke="#a8002d" stroke-width="1"/>
<line x1="100.2" y1="227.9" x2="103.6" y2="227.9" stroke="#a8002d" stroke-width="1"/>
<line x1="100.2" y1="239.5" x2="103.6" y2="239.5" stroke="#a8002d" stroke-width="1"/>
<rect x="100.45" y="232.25" width="2.9" height="2.9" fill="#a8002d"/>
<line x1="108.7" y1="236" x2="108.7" y2="240" stroke="#a8002d" stroke-width="1"/>
<line x1="107" y1="236" x2="110.4" y2="236" stroke="#a8002d" stroke-width="1"/>
<line x1="107" y1="240" x2="110.4" y2="240" stroke="#a8002d" stroke-width="1"/>
<rect x="107.25" y="236.55" width="2.9" height="2.9" fill="#a8002d"/>
<line x1="117.5" y1="237.9" x2="117.5" y2="240.9" stroke="#a8002d" stroke-width="1"/>
<line x1="115.8" y1="237.9" x2="119.2" y2="237.9" stroke="#a8002d" stroke-width="1"/>
<line x1="115.8" y1="240.9" x2="119.2" y2="240.9" stroke="#a8002d" stroke-width="1"/>
<rect x="116.05" y="237.95" width="2.9" height="2.9" fill="#a8002d"/>
<line x1="124" y1="232.2" x2="124" y2="241.5" stroke="#a8002d" stroke-width="1"/>
<line x1="122.3" y1="232.2" x2="125.7" y2="232.2" stroke="#a8002d" stroke-width="1"/>
<line x1="122.3" y1="241.5" x2="125.7" y2="241.5" stroke="#a8002d" stroke-width="1"/>
<rect x="122.55" y="236.05" width="2.9" height="2.9" fill="#a8002d"/>
<line x1="132.7" y1="230.5" x2="132.7" y2="241.4" stroke="#a8002d" stroke-width="1"/>
<line x1="131" y1="230.5" x2="134.4" y2="230.5" stroke="#a8002d" stroke-width="1"/>
<line x1="131" y1="241.4" x2="134.4" y2="241.4" stroke="#a8002d" stroke-width="1"/>
<rect x="131.25" y="234.75" width="2.9" height="2.9" fill="#a8002d"/>
<line x1="139.4" y1="229.9" x2="139.4" y2="241.4" stroke="#a8002d" stroke-width="1"/>
<line x1="137.7" y1="229.9" x2="141.1" y2="229.9" stroke="#a8002d" stroke-width="1"/>
<line x1="137.7" y1="241.4" x2="141.1" y2="241.4" stroke="#a8002d" stroke-width="1"/>
<rect x="137.95" y="234.75" width="2.9" height="2.9" fill="#a8002d"/>
<line x1="148.1" y1="229.9" x2="148.1" y2="241.4" stroke="#a8002d" stroke-width="1"/>
<line x1="146.4" y1="229.9" x2="149.8" y2="229.9" stroke="#a8002d" stroke-width="1"/>
<line x1="146.4" y1="241.4" x2="149.8" y2="241.4" stroke="#a8002d" stroke-width="1"/>
<rect x="146.65" y="234.75" width="2.9" height="2.9" fill="#a8002d"/>
<!-- Panel C -->
<text x="8.9" y="300.9" font-size="12.2" textLength="9.2" lengthAdjust="spacingAndGlyphs" font-weight="bold">C</text>
<text x="56.3" y="302.7" font-size="7.6" textLength="10.4" lengthAdjust="spacingAndGlyphs">AA</text>
<line x1="35.6" y1="307.7" x2="87.9" y2="307.7" stroke="#3a3637" stroke-width="1.1"/>
<text x="203.3" y="302.7" font-size="7.6" textLength="7.5" lengthAdjust="spacingAndGlyphs">SS</text>
<line x1="131.2" y1="307.7" x2="282.5" y2="307.7" stroke="#3a3637" stroke-width="1.1"/>
<text x="147" y="318" font-size="7.6" textLength="23.6" lengthAdjust="spacingAndGlyphs">Vehicle</text>
<text x="150.8" y="326" font-size="7.6" textLength="16.5" lengthAdjust="spacingAndGlyphs">(6 w)</text>
<text x="230" y="318" font-size="7.6" textLength="51.5" lengthAdjust="spacingAndGlyphs">RBC transfused</text>
<text x="247.7" y="326" font-size="7.6" textLength="16" lengthAdjust="spacingAndGlyphs">(6 w)</text>
<rect x="35.2" y="331.2" width="52.8" height="59" fill="#fff"/>
<rect x="35.2" y="331.2" width="52.8" height="7.1" fill="#fff"/>
<clipPath id="sb1"><rect x="35.2" y="338.3" width="52.8" height="51.9"/></clipPath><g clip-path="url(#sb1)">
<ellipse cx="59.3" cy="379.3" rx="8" ry="2.88" transform="rotate(36 59.3 379.3)" fill="#3a3a3a" opacity="0.72" filter="url(#b1)"/>
<path d="M57.28 379.29h.45M58.56 377.86h.45M54.77 375.4h.45M64.48 384.27h.45M64.33 383.66h.45M61.09 381.13h.45M49.52 374.62h.45M61.25 382.13h.45M52.9 369.69h.45M55.33 375.08h.45M60.94 380.36h.45M62.87 380.06h.45M60.37 381.19h.45M53.55 380.01h.45M60.56 383.62h.45M57.09 375.59h.45M57.66 377.81h.45M62.24 382.14h.45M58.28 375.84h.45M54.95 379.61h.45M54.79 376.72h.45M63.52 378.13h.45M57.79 381.91h.45M49.3 371.12h.45M59.86 377.38h.45M61.96 381.06h.45M50.6 375.33h.45M61.49 383.58h.45M66.27 385.39h.45M61.67 377.33h.45M63.31 380.48h.45M58.67 375.24h.45M55.01 374.67h.45M68.72 380.37h.45M51.43 374.26h.45M65.99 385.81h.45M52.87 367.47h.45M62.15 379.27h.45M52.18 376.91h.45M64.79 383.74h.45M59.99 381.03h.45M66.72 386.45h.45M61.24 382.27h.45M49.45 375.79h.45M63.53 383.88h.45M49.94 370.7h.45M66.11 379.1h.45M56.97 380.5h.45M50.33 377.36h.45M62.36 381.1h.45M60.1 381.73h.45M58.37 381.88h.45M56.44 376.04h.45M64.66 383.27h.45M53.46 377.75h.45M67.49 383.99h.45M52.34 373.86h.45M58.93 378.18h.45M67.96 382.67h.45M67.54 381.68h.45M54.37 377.51h.45M63.98 385.14h.45M60.9 380.86h.45M59.31 380.94h.45M58.01 379.15h.45M62.26 381.46h.45M62.49 383.23h.45M69.27 387.47h.45M57.59 377h.45M57.98 380.97h.45M57.04 378.75h.45M72.28 381.44h.45M53.15 375.53h.45M61.04 381.24h.45M56.18 378.9h.45M61.47 379.39h.45M71.4 389.1h.45M56.56 377.03h.45M58.22 378.33h.45M45.83 368.13h.45M66.1 380.92h.45M57.67 380.82h.45M61.72 385.3h.45M50.97 372.24h.45M56.69 379.18h.45M68.58 378.42h.45M66.89 380.7h.45M64.85 379.09h.45M58.6 382.18h.45M58.27 379.09h.45M63.24 382.56h.45M56.77 381.82h.45M65.13 382.7h.45M75.06 387.49h.45M64.39 382.25h.45M59.03 381.11h.45M59.59 381.32h.45M53.43 370.75h.45M63.79 379.82h.45M55.97 372.7h.45M64.85 385.45h.45M68.19 383.1h.45M60.85 377.18h.45M61.12 385.14h.45M52.58 378.85h.45M64.66 382.69h.45M47.19 374.5h.45M59.62 377.82h.45M60.81 381.57h.45M68.44 383.04h.45M63.17 386.34h.45M67.06 384.43h.45M54.07 378.4h.45M59.73 379.96h.45M67.03 384.17h.45M47.93 369.94h.45M48.59 373.85h.45M61.77 379.36h.45M58.12 380.81h.45M57.92 382.07h.45M57.58 381.01h.45M64.85 387.91h.45M54.63 378.41h.45M51.05 370.23h.45M47.69 373.91h.45M52.94 374.64h.45M58.34 378.52h.45M55.92 377.51h.45M68.51 386.12h.45M60.7 383.16h.45M59.98 376.21h.45M54.97 379.21h.45M51.58 371.99h.45M63.44 384.56h.45M58.25 380.83h.45M61.75 377.73h.45M52.07 372.23h.45M64.84 381.72h.45M55.67 374.47h.45M51.53 373.32h.45M52.7 375.54h.45M46.64 371.03h.45M58.6 373.27h.45M63.42 381.51h.45M48.94 369.28h.45M61.43 379.54h.45M62.33 383.63h.45M62.31 382.41h.45M65.31 385.54h.45M64.45 377.12h.45M62.17 385.11h.45M58.4 377.31h.45M71.72 383.33h.45M58.45 385.57h.45M53.56 377.09h.45M69.23 386.17h.45M60.99 383.09h.45M54.73 375.73h.45M59.7 381.94h.45M59.39 378.81h.45M54.52 374.81h.45M63.78 382.84h.45M56.02 374.53h.45M71.57 391.45h.45M66.11 376.87h.45M61.87 382.53h.45M67.44 386.43h.45M58.24 380.02h.45M47.84 373.91h.45M61.93 379.22h.45M63.72 387.65h.45M52.94 372.78h.45M60.56 380.74h.45M58.55 375.99h.45M68.88 389.21h.45M54.93 372.3h.45M66.78 387.55h.45M67.63 387.66h.45M54.43 376.5h.45M49.13 369.78h.45M58.29 380.05h.45M55.7 376.33h.45M61.16 381.73h.45M62.32 382.09h.45M56.56 379.55h.45M60.67 377.95h.45M56.06 376.94h.45M58.52 379.18h.45M59.06 379.63h.45M60.31 376.45h.45M60.06 382.85h.45M61.81 380.58h.45M62.92 379.18h.45M49.4 372.28h.45M53.48 377.18h.45M57.24 370.33h.45M51.78 378.33h.45M59.17 375.32h.45M54.64 377.4h.45M61.63 381.5h.45M66.03 386.2h.45M58.38 380.33h.45M66.55 387.33h.45M66.06 381.14h.45M57.54 380.1h.45M56.32 380.17h.45M61.16 383.23h.45M54.76 383.24h.45M66.01 383.56h.45M56.26 384.47h.45M56.34 379.64h.45M64.37 383h.45M53 375.26h.45M59.63 382.75h.45M63.32 382.29h.45M62.99 383.52h.45M60.29 380.18h.45M57.11 379.66h.45M54.69 374.16h.45M61.3 376.59h.45M59.76 373.92h.45M55 377.79h.45M62.31 381.33h.45M60.01 375.79h.45M68.07 387.14h.45M66.15 381.77h.45M60.8 375.22h.45M62.08 383.98h.45M49.55 372.07h.45M64.95 378.39h.45M51.29 370.45h.45M57.94 374.32h.45M59.13 379.88h.45M61.63 382.99h.45M65.51 387.12h.45M53.19 373.42h.45M55.27 373.31h.45M58.87 379h.45M63.98 378.19h.45M52.92 374.6h.45M58.69 377.97h.45M60 377.65h.45M62.45 382.6h.45M59.75 377.72h.45M62.08 373.58h.45M54.17 375.68h.45M51.24 374.01h.45M61.93 377.29h.45M58.43 377.77h.45M60.85 382.17h.45M60.26 377.58h.45M58.64 378.64h.45M62.7 382.61h.45M57.39 374.06h.45M58.37 376.52h.45M53.7 374.9h.45M56.61 377.65h.45M62.57 380.5h.45M71.77 387.45h.45M64.84 383.67h.45M68.29 379.08h.45M55.08 376.93h.45M59.26 385.91h.45M59.24 382.89h.45M61.99 383.95h.45M62.15 380.93h.45M63.39 379.21h.45M66.79 381.85h.45M57.72 384.18h.45M58.12 378.5h.45M65.29 383.72h.45M54.77 376.74h.45M61.35 382.81h.45M52.93 379.65h.45M67.91 385.6h.45M61.27 379.51h.45M67.57 383.31h.45M63.44 380.94h.45M54.74 378.03h.45M66.22 384.3h.45M54.7 378.26h.45M58.62 379.69h.45M65.66 387.13h.45M53.52 381.59h.45M58.25 380.78h.45M56.01 376.78h.45M47.82 376.04h.45M68.01 382.18h.45M53.7 370.62h.45M66.01 382.87h.45M59.41 378.49h.45M60.14 376.82h.45M61.37 376.71h.45M58.51 379.61h.45M62.03 380.63h.45M54.41 376.2h.45M54.67 380.39h.45M63.43 381.97h.45M57.81 376.22h.45M54.92 375.12h.45M60.13 381.37h.45M59.41 385.35h.45M55.63 376.67h.45M76.29 386.34h.45M56.37 377.65h.45M59.55 380.64h.45M57.57 379.08h.45M58.53 380.93h.45M50.7 370.53h.45M60.68 377.37h.45M53.04 376.54h.45M55.08 378.04h.45M62.75 382.68h.45M62.07 381.02h.45M52.04 373.94h.45M62.37 380.02h.45M57.77 380.32h.45M53.89 377.19h.45M69.69 385.27h.45M60.26 379.57h.45M66.85 385.68h.45M64.88 381.39h.45M59.23 379.22h.45M48.16 375.3h.45M66.32 379.43h.45M63.33 381.86h.45M61.13 381.67h.45M51.83 373.27h.45M67.81 383.85h.45M55.84 372.92h.45M52.52 375.33h.45M67.48 386.47h.45M57.55 384.38h.45M57.52 376.09h.45M61.29 382.31h.45M55.63 373.31h.45M60.47 380.86h.45M52.81 374.01h.45M55.87 378.11h.45M58.81 378.7h.45M56.05 379.93h.45M67 383.85h.45M64.71 381.07h.45M58.66 380.97h.45M67.66 384.28h.45M58.65 379.39h.45M51.52 373.69h.45M55.3 377.45h.45M56.12 371.37h.45M59.15 379.93h.45M55.26 378.89h.45M58.7 377.15h.45M63.89 378.18h.45M55.82 376.71h.45M63.92 382.19h.45M61.78 379.24h.45M58.61 383.53h.45M52.55 381.12h.45M55.94 376.91h.45M58.81 381.86h.45M55.73 370.74h.45M61.36 383.06h.45M58.97 386.54h.45M60.02 380.54h.45M63.61 383.48h.45M69.59 383.25h.45M62.01 371.48h.45M64.01 381.66h.45M61.17 386.78h.45M59.61 378.8h.45M57.85 375.86h.45M55.17 378.12h.45M59.4 379.56h.45M57.17 380.35h.45M62.05 380.89h.45M62.95 381.52h.45M51.36 377.67h.45M63 379.27h.45M64.42 384h.45M49.02 376.41h.45M59.82 382.21h.45M60.53 379.77h.45M49.97 375.28h.45M59.84 378.88h.45M61.01 380.77h.45M63.3 381.15h.45M62 375.18h.45M56.19 378.96h.45M66.71 383.65h.45M56.53 381.79h.45M56.62 379.44h.45M67.94 385.69h.45M66.61 382.59h.45M60.48 379.94h.45M58.37 381.83h.45M72.57 387.05h.45M55.65 378.06h.45M53.16 376.26h.45M62.64 380.94h.45M64.14 378.42h.45M65.32 379.28h.45M56.45 375.65h.45M56.06 379.39h.45M60.26 378.87h.45M59.98 384.29h.45M58.84 380h.45M65.36 384.46h.45M49.29 379.1h.45M73.42 383.91h.45M58.53 379.93h.45M63.4 384.18h.45M59.32 376.32h.45M58.44 381.61h.45M55.05 373.29h.45M61.79 375.6h.45M58.54 377.51h.45M62.58 379.69h.45M55.27 375.25h.45M59.94 377.88h.45M58.35 380.74h.45M63.13 386.93h.45M55.81 375.57h.45M43.88 373.49h.45M55.59 376.51h.45M63.84 378.74h.45M61.74 381h.45M49.45 372.97h.45M68.01 380.32h.45M63.2 382.73h.45M61.16 381.91h.45M66.35 383.79h.45M64.38 381.82h.45M64.17 380.52h.45M56.4 382.11h.45M61.82 380.68h.45M54.44 373.52h.45M59.03 381.78h.45M60.8 381.88h.45M57.26 381.66h.45M58.02 376.81h.45M63.81 382.76h.45M58.64 377.18h.45M57.13 379.49h.45M62.77 378.38h.45M61.27 381.24h.45M53.08 376.98h.45M58.3 377.62h.45M61.64 384.75h.45M55.14 377.53h.45M51.64 380.31h.45M55.13 379.67h.45M54.85 378.37h.45M74.22 382.92h.45M56.37 378.6h.45M59.72 377.71h.45M70.34 387.54h.45M49.63 374.7h.45M48.83 374.97h.45M56.11 377.4h.45M65.67 384.26h.45M54.39 370.91h.45M64.42 385.13h.45M53.91 377.83h.45M61 382.37h.45M48.01 370.24h.45M62.97 384.05h.45M67.19 378.04h.45M59.51 380.85h.45M73.8 387.13h.45M57.55 378.13h.45M64.49 381.81h.45M66.31 382.15h.45M61.39 379.32h.45M61.05 378.61h.45M49.55 375.33h.45M61.63 379.4h.45M59 381.9h.45M54.39 375.42h.45M61.38 382.31h.45M60.41 374.12h.45M65.29 384.59h.45M59.74 378.83h.45M61.24 379.5h.45M54.99 374.07h.45M57.04 375.92h.45M52.44 376.13h.45M51.63 375.6h.45M53.57 376.14h.45M66.14 384.85h.45M55.45 376.64h.45M62.41 376.63h.45M55.93 377.32h.45M56.76 377.68h.45M62.06 383.49h.45M63.19 383.8h.45M57.83 378.18h.45M58.32 377.7h.45M60.7 375.41h.45M57.61 378h.45M54.29 375.59h.45M62.19 380.93h.45M73.58 382.26h.45M60.7 375.13h.45M60.79 387.93h.45M46.17 370.13h.45M62.4 380.69h.45M65.19 377.2h.45M63.21 383.2h.45M60.21 378.29h.45M63.26 380.8h.45M61.14 379.19h.45M47.71 370.79h.45M59.33 381.46h.45M54.81 375.94h.45M62.3 381.89h.45M63.04 387.68h.45M57.19 372.31h.45M61.67 385.37h.45M62.98 384.28h.45M57.06 375.65h.45M65.13 380.95h.45M51.26 370.62h.45M69.6 392.25h.45M56.73 375.36h.45M61.51 378.78h.45M66.19 384.08h.45M51.91 377.65h.45M55.98 377.52h.45M59.66 378.67h.45M61.92 379.23h.45M52.73 368.25h.45M53.77 373.12h.45M59.11 379.32h.45M62.02 381.61h.45M56.15 375h.45M48.56 371.01h.45M61.09 382.11h.45M58.91 378.52h.45M64.13 382.85h.45M62.33 383.16h.45M58.64 382.53h.45M56.82 376.48h.45M56.19 374.78h.45M64.98 388.43h.45M58.65 380.44h.45M64.29 385.22h.45M67.25 381.48h.45M55.38 377.74h.45M66.59 384.89h.45M55.33 375.41h.45M57.04 375.22h.45M67.92 383.78h.45M56.48 383.4h.45M64.98 384.38h.45M55.58 377.76h.45M66.85 386.56h.45M65.7 384.23h.45M62.24 380.87h.45M59.75 383.33h.45M51.97 373.8h.45M61.32 379.14h.45M56.64 379.61h.45M68.81 388h.45M63.09 377.64h.45M69.18 386.69h.45M60.64 377.09h.45M60.49 377.05h.45M59.04 380.43h.45M59.08 379.94h.45M52.96 378.76h.45M58.38 373.46h.45M59.36 377.17h.45M54.55 374.84h.45M62.41 378.2h.45M56.66 381.44h.45M63.04 381.59h.45M60.12 379.56h.45M58.06 380.48h.45M62.07 374.48h.45M60.39 377.56h.45M63.5 380.61h.45M57.12 383.91h.45M55.4 373.27h.45M55.23 369.53h.45M49.08 372.91h.45M58.52 373.42h.45M50.79 374.87h.45M55.78 375.7h.45M59.18 383.07h.45M67.95 388.52h.45M59.79 380.18h.45M66.7 388.74h.45M57.07 378.98h.45M60.71 380.48h.45M58.5 374.95h.45M58.62 374.42h.45M64.91 384.9h.45M51.17 377.36h.45M66.5 379.1h.45M67.74 387.73h.45M71.65 384.77h.45M61.48 382.08h.45M60.11 380.38h.45M66.77 380.48h.45M54.75 372.03h.45M57.23 376.08h.45M60.84 381.18h.45M60.38 378.16h.45M55.72 379.41h.45M63.12 382.36h.45M55.53 380.98h.45M55.35 378.27h.45M65.63 383.15h.45M65.08 380.33h.45M64.27 383.48h.45M50.18 374.58h.45M52.95 378.33h.45M56.01 376.44h.45M61.21 379.75h.45M61.39 379.25h.45M62.77 381.84h.45M64.11 374.97h.45M65.27 383.73h.45M49.94 372.77h.45M60.27 383.05h.45M51.6 378.11h.45M55.24 383.16h.45M57.62 380.01h.45M58.91 375.84h.45M63.75 385.11h.45M66.11 386.68h.45M58.58 374.05h.45M56.84 375.6h.45M54.29 377.32h.45M61.36 380.03h.45M60.39 379.68h.45M59.39 381.5h.45M65.2 381.63h.45M49.57 376.29h.45M58.4 381.79h.45M51.24 372.5h.45M61.39 376.72h.45M55.65 378.71h.45M62.73 386.32h.45M56.72 373.44h.45M60.72 383.01h.45M62.06 377.6h.45M62.28 383.72h.45M62.82 380.48h.45M59.81 381.92h.45M58.9 373.77h.45M60.35 381.43h.45M58.17 381.01h.45M56.37 376.94h.45M56.95 379.22h.45M67.9 384.84h.45M67.87 389.88h.45M62.6 383.37h.45M68.71 385.63h.45M60.16 376.9h.45M59.93 383.58h.45M61.48 382.09h.45M58.03 378.86h.45M50.5 375.89h.45M58.67 375.7h.45M56.52 374.94h.45M62.3 384.49h.45M51.02 375.92h.45M64.68 381.56h.45M52.61 372.32h.45M55.56 377.55h.45M60.19 374.18h.45M62.58 377.32h.45M65.62 380.46h.45M56.87 375.1h.45M54.74 379.67h.45M62.9 383.62h.45M63.05 377.62h.45M57.35 376.31h.45M53.55 376.57h.45" stroke="#3a3a3a" stroke-width="0.45" fill="none" opacity="0.8"/>
<path d="M67.04 385.86h.45M65.82 384.65h.45M72.38 387.7h.45M70.7 385.62h.45M59.18 386.66h.45M74.87 386.77h.45M73.71 387.83h.45M74.51 386.1h.45M74.21 387.2h.45M63.85 386.14h.45M64.3 386.4h.45M72.31 385.54h.45M61.78 387.67h.45M71.51 387.82h.45M64.71 387.45h.45M78.3 388.31h.45M69.16 386.74h.45M69.38 387.4h.45M74.15 386.58h.45M64.56 387.17h.45M68.12 387.07h.45M71.05 387.96h.45M74.55 386.09h.45M71.4 388.09h.45M67.85 386.89h.45M74.76 387.63h.45M72.07 385.31h.45M64.96 386.72h.45M71.55 388.79h.45M66.55 387.52h.45M73.08 385h.45M66.73 386.65h.45M68.03 386.36h.45M71.88 385.77h.45M71.87 385.93h.45M67.82 386.98h.45M67.71 386.76h.45M76.4 386.52h.45M69.42 387.16h.45M68.54 387.47h.45" stroke="#555" stroke-width="0.45" fill="none" opacity="0.8"/>
</g>
<rect x="35.2" y="331.2" width="52.8" height="59" fill="none" stroke="#2a2a2a" stroke-width="0.7"/>
<line x1="35.2" y1="338.3" x2="88" y2="338.3" stroke="#2a2a2a" stroke-width="0.6"/>
<line x1="58.3" y1="338.3" x2="58.3" y2="390.2" stroke="#2a2a2a" stroke-width="0.55"/>
<line x1="73.5" y1="338.3" x2="73.5" y2="390.2" stroke="#2a2a2a" stroke-width="0.55"/>
<line x1="35.2" y1="371" x2="88" y2="371" stroke="#2a2a2a" stroke-width="0.55"/>
<line x1="35.2" y1="383.7" x2="88" y2="383.7" stroke="#2a2a2a" stroke-width="0.55"/>
<text x="36.8" y="336.8" font-size="4.6" textLength="22.6" lengthAdjust="spacingAndGlyphs" fill="#3a3a3a" class="s">RBC V/HC</text>
<rect x="131.2" y="331.2" width="54.8" height="58.6" fill="#fff"/>
<rect x="131.2" y="331.2" width="54.8" height="7.1" fill="#fff"/>
<clipPath id="sb2"><rect x="131.2" y="338.3" width="54.8" height="51.5"/></clipPath><g clip-path="url(#sb2)">
<ellipse cx="155.5" cy="375" rx="10.75" ry="4.5" transform="rotate(40 155.5 375)" fill="#666" opacity="0.58" filter="url(#b1)"/>
<path d="M145.62 369.61h.45M153.97 369.97h.45M169.13 382.44h.45M165.55 386.53h.45M167.33 380.34h.45M160.03 385.65h.45M155.03 374h.45M171.27 389.07h.45M154.17 370.93h.45M157.67 378.38h.45M152.69 380.73h.45M152.25 374.49h.45M167.44 380.3h.45M158.1 385.79h.45M149.11 364.48h.45M152.93 364.17h.45M162.78 372.38h.45M155.42 381.77h.45M145.59 365.2h.45M141.06 366.55h.45M151.26 370.19h.45M154.6 376.8h.45M153.18 373.12h.45M151.63 372.29h.45M147.63 368.69h.45M143.9 362.97h.45M167.93 385.81h.45M146.6 368.74h.45M152.92 365.07h.45M148.94 372.96h.45M158.25 376.85h.45M151.89 366.9h.45M163.83 383.14h.45M154.11 363.92h.45M140.75 374.25h.45M148.11 368.44h.45M157.25 375.73h.45M156.84 369.67h.45M144.67 373.85h.45M148.56 373.15h.45M144.98 364.88h.45M154.82 379.3h.45M146.73 370.44h.45M159.75 375.1h.45M160.72 375.16h.45M150.3 370.55h.45M137.87 359.7h.45M152.3 365.44h.45M150.93 374.75h.45M149.91 376.26h.45M150.9 364.97h.45M164.8 384.67h.45M163.64 377.94h.45M160.2 380.16h.45M159.71 378.66h.45M164.95 379.88h.45M152.57 365.6h.45M164.85 379.38h.45M150.8 366.64h.45M155.51 369.03h.45M155.04 371.66h.45M154.09 369.31h.45M156.81 373.93h.45M155.68 376.32h.45M162.81 370.84h.45M153.81 369.84h.45M164.25 374.93h.45M151.47 370.24h.45M150.99 375.88h.45M150.35 375.21h.45M150.04 361.9h.45M162.52 382.94h.45M158.43 378.04h.45M161.5 374.32h.45M162.98 378.78h.45M161.79 380.69h.45M145.48 360.54h.45M163.25 380.86h.45M152.33 373.48h.45M153.96 371.15h.45M155.84 375.96h.45M165.39 383.51h.45M163.71 390.36h.45M164.35 387.42h.45M156.04 376.1h.45M156.25 372.2h.45M156.55 372.87h.45M165.07 385.54h.45M156.99 367.25h.45M156.11 373.56h.45M150.98 365.86h.45M139.36 364.13h.45M149.09 381.75h.45M155.64 374.42h.45M164.7 383.35h.45M157.46 374.9h.45M148.04 375.79h.45M158.12 385.26h.45M153.13 373.15h.45M147.46 372.8h.45M145.02 368.86h.45M159.45 384.95h.45M146.79 372.81h.45M152.55 368.97h.45M144.11 370.87h.45M167.74 382.47h.45M151.28 369.87h.45M169.69 391.63h.45M156.08 367.05h.45M148.32 374.56h.45M168.42 384.59h.45M152.13 369.77h.45M140.98 367.08h.45M145.89 371.93h.45M147.19 362.06h.45M159.17 374.49h.45M160.63 379.34h.45M146.32 370.22h.45M165.47 374.38h.45M166.38 386.47h.45M164.81 374.07h.45M151.57 370.06h.45M165.97 376.93h.45M154.37 364.52h.45M153.11 374.62h.45M145.76 364.05h.45M155.19 382.19h.45M160.58 377.83h.45M149.91 365.91h.45M150.78 371.73h.45M151.32 379.32h.45M159.87 373.63h.45M163.48 386.15h.45M157.83 373.57h.45M145.54 361.84h.45M163.36 377.83h.45M146.35 368.24h.45M155.7 378.02h.45M156.56 382.51h.45M147.71 373.06h.45M147.39 371.46h.45M156.12 376.66h.45M161.92 380.3h.45M160.8 383.56h.45M157.7 374.19h.45M151.76 369.38h.45M154.22 373.81h.45M173.66 393.24h.45M162.56 376.88h.45M151.56 370.19h.45M159.16 373.21h.45M167.42 382.36h.45M168.01 374.52h.45M154.81 375.73h.45M155.37 377.72h.45M156.97 376.99h.45M144.68 362.57h.45M138.61 363.78h.45M157.98 376.16h.45M151.43 368.86h.45M163.65 389.98h.45M152.14 378.23h.45M149.52 360.89h.45M154.34 369.92h.45M151.38 372.43h.45M176.96 389.9h.45M155.19 376.04h.45M153.12 377.38h.45M170.07 381.39h.45M157.18 375.16h.45M161.39 372.75h.45M149.28 358.89h.45M158.52 378.43h.45M161.46 368.88h.45M154.79 370.85h.45M148.31 364.66h.45M158.84 380.36h.45M154.16 376.29h.45M151.36 371.86h.45M154.48 376.75h.45M155.37 374.22h.45M156.1 372.48h.45M169.02 388.77h.45M153.02 383.69h.45M168.34 378.46h.45M158.14 381.15h.45M164.87 389.05h.45M163.3 376.01h.45M149.14 370.93h.45M161.19 374.97h.45M153.89 371.77h.45M155.12 376.26h.45M156.47 370h.45M159.99 386.27h.45M152.43 377.24h.45M156.9 379.27h.45M160.44 375.56h.45M156.94 380.96h.45M145.05 375.47h.45M165.05 391.58h.45M166.89 388.04h.45M154.66 371.48h.45M149.88 370.83h.45M153.73 376.67h.45M136.84 370.21h.45M170.56 387.51h.45M158.85 380.05h.45M157.78 375.94h.45M156.6 372.05h.45M156.73 375.92h.45M159.59 374.41h.45M155.65 375.35h.45M161.94 375.41h.45M155.99 380.03h.45M160.29 377.28h.45M152.81 371.63h.45M156.71 383.31h.45M155.95 372.35h.45M157.5 377.64h.45M151.22 367.95h.45M153.28 376.29h.45M150 365.6h.45M161.62 374.38h.45M155.4 376.57h.45M157.12 371.58h.45M155.87 373.75h.45M159.66 374.54h.45M166.57 376.41h.45M154.32 374.05h.45M163.24 378.64h.45M160.41 376.45h.45M156.34 383.87h.45M151.83 374h.45M147.14 372.56h.45M163.39 381.79h.45M147.09 369.84h.45M160.55 384.36h.45M165.09 374.45h.45M147.73 375.16h.45M144.8 371.34h.45M166.14 387.51h.45M163.65 380.28h.45M147.66 367.94h.45M154.3 373.77h.45M160.43 378.45h.45M155.78 377.23h.45M151.2 380.05h.45M158.22 377.68h.45M155.58 372.13h.45M164.01 382.84h.45M149.69 367.49h.45M155.63 373.02h.45M165.33 377.79h.45M158.41 378.12h.45M147.63 368.62h.45M153.72 375.86h.45M151.83 373.35h.45M147.04 362.81h.45M158.26 382.21h.45M156.8 373.28h.45M167.47 375.22h.45M148.68 372.43h.45M162.19 375.76h.45M139.71 368.57h.45M158.58 373.37h.45M153.77 377.79h.45M135.86 363.73h.45M165.19 373.35h.45M164.7 374.35h.45M162.08 382.4h.45M171.75 385.77h.45M153.11 377.91h.45M152.92 369.52h.45M153.22 372.74h.45M147.25 370.35h.45M158.91 378.2h.45M167.46 383.49h.45M165.37 380.72h.45M164.96 373.84h.45M157.21 375.61h.45M153.65 370.58h.45M154.88 371.09h.45M142.43 361.23h.45M153.09 370.52h.45M148.85 368.78h.45M161.25 378.65h.45M149.11 376.02h.45M159.8 382.94h.45M163.87 380.49h.45M152.07 377.36h.45M152.13 371.61h.45M157.13 378.12h.45M151.4 376.18h.45M152.65 376.02h.45M161.03 382.74h.45M163.02 375.86h.45M148.29 366.05h.45M155.16 381.77h.45M146.74 369.09h.45M151.57 368.26h.45M152.08 375.38h.45M154.17 379.43h.45M146.95 372h.45M161.47 380.33h.45M159.95 376.08h.45M149.26 367.86h.45M144.58 379.42h.45M148.49 376.87h.45M156.11 376.98h.45M162.2 376.96h.45M160.67 381.1h.45M144.12 368.28h.45M158.09 379.3h.45M166.9 382.62h.45M157.14 379.89h.45M146.79 373.33h.45M148.95 363.4h.45M161.46 374.88h.45M158.54 369.82h.45M158.58 372.26h.45M161.3 372.66h.45M159.07 376.75h.45M156.08 375.17h.45M159.42 372.08h.45M138.52 360.92h.45M150.39 368.57h.45M162.9 371.88h.45M151.88 369.1h.45M147.78 370.06h.45M156.48 371.96h.45M147.15 371.78h.45M149.8 372.97h.45M162.84 372.26h.45M148.35 369.02h.45M155.95 379.04h.45M158.39 382.29h.45M153.52 372.35h.45M161.59 378.11h.45M166.14 376.46h.45M160.21 378.13h.45M140.27 366.83h.45M157.5 376.78h.45M149.48 367.77h.45M167.37 381.08h.45M134.61 353.45h.45M147.9 368h.45M155.02 370.31h.45M147.53 373.24h.45M141.47 372.42h.45M154.44 368.98h.45M159.38 380.91h.45M146.9 371.3h.45M145.52 362.28h.45M163.51 380.52h.45M145.73 369.22h.45M161.59 380.01h.45M144.4 364.06h.45M156.48 379.43h.45M168.29 384.55h.45M152.41 372.23h.45M165.63 379.07h.45M170.46 374.63h.45M162.32 377.55h.45M156.93 379.44h.45M147.91 368.22h.45M155.73 377.95h.45M151.67 367.12h.45M136.95 371.37h.45M154.75 373.32h.45M143.5 369.3h.45M148.66 376h.45M161.06 379.77h.45M162.86 375.95h.45M154.69 371.61h.45M147.1 368.03h.45M151.22 378.16h.45M134.97 354.61h.45M150.52 368.64h.45M157.35 378.45h.45M156.78 373.85h.45M157.93 378.73h.45M143.97 364.09h.45M149.18 364.14h.45M156.33 375.98h.45M158.28 373.21h.45M156.29 371.37h.45M156.42 379.01h.45M164.13 388.19h.45M151.25 369.29h.45M148.61 370.66h.45M166.91 387.9h.45M143.92 359.37h.45M145.79 369.28h.45M154.81 375.83h.45M169.15 382.57h.45M145.37 375.74h.45M159.56 374.74h.45M145.66 359.58h.45M139.24 361.68h.45M153.49 377.98h.45M156.19 372.32h.45M146.22 376.15h.45M143.47 365.72h.45M154.24 376.84h.45M151.68 374.14h.45M161.21 379.1h.45M152.92 371.96h.45M149.62 369.09h.45M153.02 373.91h.45M161.28 385.99h.45M151.17 374.2h.45M155.68 378.73h.45M155.03 375.85h.45M154.23 370.24h.45M158.24 383.4h.45M158.85 379.86h.45M158.3 375.23h.45M142.22 366.97h.45M158.1 374.57h.45M146.19 373.19h.45M139.54 369.88h.45M154.23 385.07h.45M150.82 370.97h.45M151.8 372.63h.45M155.85 371.78h.45M164.4 378.78h.45M150.87 373.72h.45M152.96 370.83h.45M158.7 375.95h.45M147.52 367.83h.45M150.11 378.49h.45M146.03 371.61h.45M151.15 369.67h.45M152.72 373.94h.45M157.14 384.6h.45M148.23 375.15h.45M160.18 382.74h.45M148.41 373.29h.45M153.97 375.38h.45M152.19 375.34h.45M160.23 384.28h.45M151.84 376.61h.45M167.23 380.45h.45M168.29 379.46h.45M157.7 379.64h.45M164.62 383.97h.45M154.18 370.15h.45M145.48 370.2h.45M155.6 371.71h.45M160.77 375.83h.45M153.68 371.32h.45M163.01 388.18h.45M158.1 369.79h.45M157.16 376.73h.45M156.49 378.49h.45M151.25 375.78h.45M160.53 380.21h.45M153.94 371.43h.45M162.61 375.8h.45M156.18 372.05h.45M144.92 368.96h.45M155.25 374.96h.45M164.72 375.71h.45M154.39 375.43h.45M163.49 376.61h.45M159.71 379.56h.45M161.8 385.64h.45M154.15 383.96h.45M156.47 373.82h.45M155.43 370.52h.45M159.66 369.66h.45M153.96 375.71h.45M162.83 379.52h.45M166.16 380.88h.45M158.96 369.08h.45M152.32 368.61h.45M163.91 384.49h.45M147.19 370.48h.45M159.13 376.97h.45M156.34 374.3h.45M156.02 367.3h.45M152.02 377.97h.45M165.34 381.98h.45M151.17 370.4h.45M160.48 380.79h.45M150.93 372.82h.45M153.01 375.28h.45M156.2 368.84h.45M154.16 377.36h.45M148.63 368.74h.45M161.98 378.73h.45M146.74 376.95h.45M158.51 382.23h.45M145.75 374.29h.45M146.04 364.69h.45M157.25 382.55h.45M151.03 368.21h.45M161.1 370.88h.45M158.34 379.94h.45M151.42 374.04h.45M159.77 380h.45M155.44 381.86h.45M152.08 372.87h.45M149.84 374.96h.45M151.83 374.08h.45M156.23 375.91h.45M166.65 383.97h.45M162.69 384.8h.45M164.29 381.62h.45M159.72 381.98h.45M150.98 372.43h.45M154.76 374.22h.45M165.4 380.04h.45M148.68 361.37h.45M154.06 370.87h.45M154.33 376.58h.45M166.01 385.22h.45M160.09 375.52h.45M156.16 381.71h.45M168.38 376.95h.45M157.62 383.96h.45M164.09 375.43h.45M152.24 374.93h.45M159.95 375.06h.45M147.69 372.82h.45M143.84 371.7h.45M154.96 375.91h.45M148.37 366.32h.45M163.15 374.76h.45M171.76 382.29h.45M147.66 368.61h.45M156.92 379.51h.45M153.61 372.48h.45M155.28 372.22h.45M137.03 363.85h.45M156.74 376.75h.45M150.96 372.33h.45M155.59 374.73h.45M166.33 376.31h.45M159.47 373.51h.45M150.16 377.28h.45M148.86 368.98h.45M149.65 374.37h.45M153.04 365.34h.45M159.54 376.79h.45M151.08 376.17h.45M150.71 369.3h.45M155.52 376.88h.45M149.93 375h.45M170.59 385.82h.45M172.02 379.34h.45M165.17 381.56h.45M157.12 374.83h.45M154.31 368.24h.45M150.12 376.34h.45M163.49 380.13h.45M153.72 370.34h.45M143.9 373.41h.45M159.44 378.83h.45M154.66 369.68h.45M162.09 384.06h.45M147.28 372.56h.45M147.07 370.82h.45M150.34 368.8h.45M157.67 378.77h.45M163.76 378.15h.45M162.5 386.94h.45M154.4 376.18h.45M150.92 370.47h.45M146.95 368.23h.45M153.78 379.62h.45M159.68 382.19h.45M153.71 372.48h.45M152.85 373.78h.45M141.58 366.8h.45M146.73 365.32h.45M156.78 373.76h.45M166.23 383.57h.45M162.83 386.45h.45M151.47 373.42h.45M164.45 381.01h.45M157.3 373.99h.45M156.66 374.37h.45M153.8 378.09h.45M164.01 382.74h.45M154.88 378.34h.45M156.02 370.66h.45M164.6 378.42h.45M163.53 377.38h.45M169.4 381.95h.45M157.54 383.48h.45M146.12 373.83h.45M154.21 365.96h.45M158.51 380.69h.45M159.83 367.24h.45M155.83 373.9h.45M153.74 372.22h.45M145.44 364h.45M163.45 388.65h.45M154.8 371.2h.45M155.65 379.91h.45M162.67 375.74h.45M156.21 376.23h.45M161.94 385.8h.45M156.11 381h.45M149.58 376.97h.45M151.93 373.79h.45M163.34 377.45h.45M154.96 366.62h.45M156.66 375.73h.45M152.33 374.59h.45M142.17 363.71h.45M156.64 374.76h.45M156.63 383.85h.45M154.77 370.15h.45M151.47 372.04h.45M161.12 375.83h.45M164.1 377.59h.45M159.78 380.52h.45M153.64 383.17h.45M154.2 373.16h.45M156.6 379.81h.45M146.42 368.62h.45M149.41 372.73h.45M164.05 382.4h.45M154.42 374.92h.45M135.1 361.36h.45M158.68 378.41h.45M154.62 370.96h.45M151.67 377.26h.45M151.86 378.02h.45M140.25 360.13h.45M157.26 376.42h.45M146.48 364.43h.45M166.27 378.21h.45M151.67 366.84h.45M150.58 373.77h.45M163.77 372.78h.45M166.05 381.18h.45M148.07 376.29h.45M157.74 371.28h.45M153.07 369.69h.45M149.86 368.76h.45M160.27 380.58h.45M140.58 375.05h.45M148.98 370.05h.45M154.01 377.18h.45M152.41 374.47h.45M168.61 386.43h.45M147.92 370.12h.45M151.24 369.76h.45M155.94 376.89h.45M151.82 375.74h.45M157.18 370.52h.45M161.86 378.69h.45M164.63 379.7h.45M158.42 378.87h.45M141.76 356.73h.45M145.3 372.78h.45M141.53 367.4h.45M161.31 382.11h.45M160.87 377.27h.45M154.93 375.54h.45M156.59 379.11h.45M155.75 372.05h.45M151.03 373.1h.45M147.78 362.87h.45M154.12 371.35h.45M159.7 366.52h.45M153.9 372.53h.45M164.81 373.88h.45M152.51 374.63h.45M155.94 380.77h.45M164.51 377.82h.45M160.27 377.49h.45M147.01 374.8h.45M153.42 369.39h.45M154.81 370.58h.45M161.03 381.36h.45M163.45 383.53h.45M149.27 374.51h.45M152.38 370.29h.45M154.35 374.21h.45M164.42 379.75h.45M157.79 376.8h.45M149.96 365.4h.45M153.21 374.91h.45M156.46 377.98h.45M156.81 374.07h.45M160.44 374.61h.45M147.72 366.97h.45M147.57 366.02h.45M151.99 369.55h.45M157 372.63h.45M156.63 368.2h.45M158.39 373.43h.45M164.37 369.64h.45M149.87 371.37h.45M140.8 361.03h.45M155.87 375.78h.45M145.48 367.64h.45M158.62 373.21h.45M160.34 378.84h.45M156.62 373.9h.45M158.76 378.18h.45M161.72 382.27h.45M152.07 371.11h.45M162.16 378.93h.45M156.77 378.43h.45M159.56 367.84h.45M155.86 376.27h.45M158.06 373.7h.45M163.5 381.1h.45M153.13 369.76h.45M160.22 374.01h.45M144.65 374.98h.45M161.49 384.81h.45M162.86 383.88h.45M142.09 369.18h.45M162.3 382.93h.45M140.25 367.85h.45M165.31 380.99h.45M154.57 377.76h.45M152.5 377.48h.45M154.47 377.28h.45M159.36 371.51h.45M142.05 378.13h.45M154.34 380h.45M158.92 385.68h.45M160.38 376.38h.45M159.92 369.97h.45M152.27 376.42h.45M141.25 363.94h.45M157.78 382.97h.45M151.04 368.29h.45M145.8 362.21h.45M154.27 383.4h.45M145.08 372.54h.45M159.34 375.97h.45M175.2 380.02h.45M154.58 375.22h.45M165.09 391.25h.45M169.68 387.51h.45M158.71 383.92h.45M157.97 378.71h.45M155.24 372.92h.45M143.25 373.62h.45M157.32 367.03h.45M157.27 376.33h.45M152.54 380.81h.45M155.42 373.72h.45M150.77 370.93h.45M152.23 373.19h.45M174.63 392.85h.45M145.67 375.57h.45M159.2 381.83h.45M158.24 381.04h.45M156.65 382.41h.45M158.92 384.03h.45M152.29 372.29h.45M148.67 373.65h.45M161.88 378.22h.45M153.33 385.19h.45M165.94 378.66h.45M153.48 376.21h.45M154.4 375.85h.45M162.33 382.23h.45M146.85 371.01h.45M154.62 374.78h.45M154.98 368.24h.45M148.3 367.34h.45M154.76 361.95h.45M165.48 378.06h.45M149.65 372.53h.45M137.01 365.63h.45M149.08 372.63h.45M151.72 373.23h.45M156.18 375.56h.45M147.09 361.22h.45M152.06 378.56h.45M150.8 373.49h.45M155.45 377.17h.45M165.24 376.32h.45M157.66 376h.45M155.42 371.02h.45M152.78 368h.45M142.8 375.83h.45M166.39 384.18h.45M162.46 376.37h.45M141.75 355.12h.45M153.16 379.63h.45M157.49 372.08h.45M156.2 371.02h.45M147.07 366.86h.45M154.77 370.67h.45M151.91 367.73h.45M153.88 380.02h.45M149.11 379.87h.45M144.49 367.02h.45M148.44 368.34h.45M154.9 377.05h.45M164 379.59h.45M147.95 367.8h.45M158.96 374.71h.45M157.44 384.34h.45M145.55 368.31h.45M166.36 375.31h.45M157.33 375.5h.45M143.39 370.87h.45M157.97 374.88h.45M156.9 379.12h.45M159.13 380.71h.45M160.78 374.04h.45M152.51 373.08h.45M132.92 365.82h.45M155.44 370.12h.45M143.26 365.87h.45M157.02 373.6h.45M154.83 370.37h.45M150.91 370.7h.45M149.84 373.36h.45M154.29 374.59h.45M155.24 380.6h.45M158.85 378.85h.45M156.27 371.95h.45M151.76 374.99h.45M157.83 375.18h.45M150.41 363.7h.45M155.25 379.49h.45M161 373.32h.45M153.63 374.45h.45M148.82 370.98h.45M156.1 371.68h.45M145.7 370.49h.45M159.79 374.54h.45M146.98 371.93h.45M160.01 377.39h.45M166.38 382.8h.45M146.26 372.25h.45M153.51 374.91h.45M158 372.51h.45M148.32 368.09h.45M166.78 379.87h.45M163.72 382.91h.45M147.76 369.73h.45M161.17 375.64h.45M141.03 364.49h.45M147.39 370.21h.45M143.56 364.33h.45M153.64 366.67h.45M153.57 374.16h.45M154.59 368.83h.45M160.8 371.45h.45M157.82 379.19h.45M164.26 386.39h.45M157.18 377.61h.45M158.66 371.59h.45M163.68 384.27h.45M156.25 370.39h.45M163.81 384.4h.45M146.4 370.43h.45M167.69 385.12h.45M159 376.04h.45M149.06 374.5h.45M174.95 391.85h.45M152.92 376.46h.45M151.91 375.32h.45M163.09 376.73h.45M148.8 369.04h.45M160.2 380.21h.45M166.53 377.98h.45M160.05 375.98h.45M155.42 376.4h.45M149.81 369.18h.45M147.46 369.47h.45M151.17 369.12h.45M158.37 374.43h.45M164.27 379.46h.45M160.29 380.31h.45M149.38 368.87h.45M150.96 369.55h.45M149.69 378.41h.45M149.3 376.95h.45M161.29 373.9h.45M139.2 364.41h.45M141.18 366.25h.45M161.19 381.56h.45M154.72 373.21h.45M157.83 375.58h.45M152.91 371.15h.45M164.36 379.61h.45M160.5 373.96h.45M154.03 367.51h.45M152.71 375.76h.45M158.55 375.32h.45M160.18 377.35h.45M157.26 377.72h.45M164.5 371.28h.45M145.46 370.1h.45M149.79 380.42h.45" stroke="#666" stroke-width="0.45" fill="none" opacity="0.8"/>
<path d="M168.75 385.72h.45M177.95 386.68h.45M180.1 386.64h.45M168.92 386.83h.45M165.81 385.81h.45M167.05 386.01h.45M174.14 385.78h.45M171.71 385.77h.45M174.7 383.8h.45M168.89 386.35h.45M164.26 387.08h.45M171.15 387.31h.45M175.11 386.76h.45M169.21 385.25h.45M168.83 385.8h.45M171.33 385.8h.45M186.24 384.81h.45M176.24 385.79h.45M168.71 387.01h.45M170.01 385.15h.45M172.2 386.03h.45M159.06 386.37h.45M164.39 385.55h.45M172.56 386.46h.45M168.46 388.09h.45M172.23 385.67h.45M171.26 386.09h.45M158.3 384.83h.45M162.62 387.99h.45M169.02 385.96h.45M167 387.05h.45M170.15 387.68h.45M174.19 387.63h.45M169.38 386.53h.45M167.7 386.05h.45M160.82 385.7h.45M164.95 385.63h.45M176.45 386.43h.45M176.5 386.94h.45M174.88 387.07h.45M166.79 386.9h.45M168.29 385.74h.45M176.34 388.08h.45M164.81 387.71h.45M174.41 385.46h.45M171.45 386.52h.45M171.99 385.89h.45M163.19 386.23h.45M174.57 386.88h.45M173.5 387.16h.45M164.75 386.16h.45M171.8 387.07h.45M170.83 386.65h.45M170.71 388.02h.45M158.43 386.18h.45M183.12 386.4h.45M160.29 386.32h.45M162.4 385.61h.45M171.19 387.69h.45M172.45 386.78h.45M175.39 386.37h.45M165.46 386.12h.45M171.78 385.96h.45M166.46 385.89h.45M162.05 385.31h.45M169.52 385.89h.45M170.2 387.42h.45M171.59 386.17h.45M163.79 385.27h.45M171.99 385.44h.45" stroke="#888" stroke-width="0.45" fill="none" opacity="0.8"/>
</g>
<rect x="131.2" y="331.2" width="54.8" height="58.6" fill="none" stroke="#2a2a2a" stroke-width="0.7"/>
<line x1="131.2" y1="338.3" x2="186" y2="338.3" stroke="#2a2a2a" stroke-width="0.6"/>
<line x1="155.6" y1="338.3" x2="155.6" y2="389.8" stroke="#2a2a2a" stroke-width="0.55"/>
<line x1="171.5" y1="338.3" x2="171.5" y2="389.8" stroke="#2a2a2a" stroke-width="0.55"/>
<line x1="131.2" y1="371" x2="186" y2="371" stroke="#2a2a2a" stroke-width="0.55"/>
<line x1="131.2" y1="383.7" x2="186" y2="383.7" stroke="#2a2a2a" stroke-width="0.55"/>
<text x="132.8" y="336.8" font-size="4.6" textLength="22.6" lengthAdjust="spacingAndGlyphs" fill="#3a3a3a" class="s">RBC V/HC</text>
<rect x="229" y="331.2" width="53.9" height="60" fill="#f3f3f3"/>
<rect x="229" y="331.2" width="53.9" height="6.7" fill="#fff"/>
<clipPath id="sb3"><rect x="229" y="337.9" width="53.9" height="53.3"/></clipPath><g clip-path="url(#sb3)">
<ellipse cx="254.8" cy="379.8" rx="8.25" ry="3.62" transform="rotate(35 254.8 379.8)" fill="#4a4a4a" opacity="0.66" filter="url(#b1)"/>
<path d="M258.75 378.91h.45M255.62 380.12h.45M260.61 382.53h.45M252.47 379.01h.45M252.38 383.86h.45M254.32 377.64h.45M252.38 379.72h.45M254.91 382.24h.45M243.64 380.42h.45M264.42 386.43h.45M248.26 375.75h.45M260.53 376.21h.45M257.24 376.47h.45M254.97 384.63h.45M262.59 380.12h.45M260.54 386.9h.45M252.12 379.63h.45M263.22 384.57h.45M255.61 378.46h.45M264.26 379.09h.45M263.73 382.76h.45M262.22 379.46h.45M250.88 375.02h.45M261.7 379.11h.45M258.95 380.54h.45M261.76 383.61h.45M257.6 381.18h.45M264.71 385.51h.45M251.49 384.24h.45M254.11 381.65h.45M250.65 377.57h.45M242.83 371.78h.45M253.84 374.01h.45M245.61 377.25h.45M259.45 377.89h.45M265.35 384.82h.45M252.49 379.02h.45M251.47 371.96h.45M249.03 379.78h.45M262.28 379.66h.45M261.01 384.26h.45M257.32 381.74h.45M258.55 379.02h.45M251.2 374.88h.45M251.89 379.87h.45M245.92 379.01h.45M252.45 376.15h.45M257.76 383.35h.45M254.75 376.12h.45M252.15 372.5h.45M259.01 386.44h.45M263.72 387.75h.45M255.32 382.74h.45M260.16 382.67h.45M253.18 386.01h.45M248.24 370.42h.45M248.58 378.01h.45M261.52 383.35h.45M258.37 382.14h.45M257.23 379.66h.45M254.67 379.69h.45M257.11 389.03h.45M244.5 374.4h.45M253.22 382h.45M259.08 385.45h.45M260.53 380.58h.45M243.25 377.4h.45M262.62 382.03h.45M260.45 386.03h.45M240.59 372.91h.45M247.79 378.87h.45M252.44 375.62h.45M247.1 373.67h.45M261.17 381.97h.45M241.68 377.92h.45M263.3 388.11h.45M253.94 375.07h.45M245.37 375.1h.45M263.27 382.11h.45M255.24 379.16h.45M252.66 380.01h.45M266.72 385.97h.45M257.48 385.39h.45M253.56 378.42h.45M246.08 377.38h.45M253.08 376.36h.45M256.53 378.08h.45M249.85 375.31h.45M262.88 384.75h.45M259.9 378.36h.45M241.74 376.86h.45M255.19 374.82h.45M253.27 380.8h.45M247.21 371.48h.45M257.63 378.64h.45M257.41 384.91h.45M257.8 380.43h.45M255.57 378.18h.45M253.61 380.05h.45M251.67 380.93h.45M269.21 388.02h.45M255.27 382.94h.45M258.55 381.61h.45M250.69 380.35h.45M257.25 383.24h.45M249.59 378.31h.45M259.25 382.28h.45M254.69 387.15h.45M244.02 374.33h.45M250.88 372.39h.45M252.69 380.19h.45M256.94 377.31h.45M248.18 373.26h.45M256.21 377.94h.45M244.12 378.33h.45M250.67 376.37h.45M252.87 376.45h.45M255.49 379.26h.45M259.94 379.34h.45M243.89 378.84h.45M253.17 381.29h.45M260.08 385.39h.45M257.49 376.36h.45M244.85 376.18h.45M257.43 383.59h.45M249.55 368.82h.45M251.17 373.21h.45M257.28 378.03h.45M264.09 384.17h.45M250.47 379.73h.45M257.97 378.93h.45M256 387.24h.45M248.77 374.72h.45M252.29 371.37h.45M256.96 383.71h.45M259.22 384.37h.45M244.28 372.34h.45M253.19 374.63h.45M247.76 377.5h.45M250.07 383.25h.45M260.35 377.13h.45M257.48 385.97h.45M256.92 377.12h.45M266.21 383.27h.45M257.44 375.09h.45M250.96 371.26h.45M258.62 386.53h.45M254.86 375.17h.45M253.87 380.45h.45M248.65 371.5h.45M253.12 381.05h.45M254.46 381.12h.45M252.26 369.43h.45M257.93 378.83h.45M254.76 378.47h.45M258.59 379.79h.45M262.36 385.2h.45M256.57 383.21h.45M259.62 384.57h.45M246.59 371.88h.45M263.85 387.77h.45M257 382.96h.45M252.52 375.85h.45M249.5 380.1h.45M253.83 385.28h.45M254.36 386.04h.45M259.15 378.74h.45M263.46 387.03h.45M260.76 384.72h.45M252.79 378.98h.45M250.8 372.86h.45M250.95 375.28h.45M247.78 374.53h.45M253.11 385.65h.45M264.64 386.52h.45M259.85 382.57h.45M256.93 381.17h.45M251.81 377.97h.45M246.23 375.33h.45M255.03 376.2h.45M251.98 379.75h.45M250.41 378.38h.45M255.28 385.56h.45M249.2 375.49h.45M255.07 385.21h.45M254.96 382.54h.45M247.95 372.97h.45M264.11 385.33h.45M267.51 386.16h.45M255.93 375.03h.45M257.75 382.79h.45M265.28 387.72h.45M255.77 375.57h.45M252.81 381.71h.45M256.73 385.44h.45M259.49 382.92h.45M257.74 382.46h.45M244.88 378.84h.45M258.53 378.73h.45M256.38 381.92h.45M257.75 386.92h.45M237.64 369.73h.45M264.54 383.3h.45M244.41 373.5h.45M256.02 381.88h.45M249.63 374.55h.45M254.62 382.28h.45M266.04 388.7h.45M255.46 371.99h.45M260.77 383.52h.45M255.84 377.06h.45M261.69 378.33h.45M255.18 380.49h.45M254.26 384h.45M254.11 379.65h.45M261.95 379.36h.45M253.12 378.86h.45M261.24 381.5h.45M258.48 383.72h.45M249.26 370.73h.45M246.88 374.75h.45M254.71 382.28h.45M260.12 381.58h.45M259.19 385.75h.45M256.54 382.7h.45M247.29 375.82h.45M251.22 373.1h.45M252.69 378.81h.45M255.06 378.82h.45M249.12 376.48h.45M253.15 373.69h.45M252.9 383.58h.45M254.38 375.77h.45M259.41 389.06h.45M253.57 378.19h.45M251.06 387.57h.45M253.87 382.65h.45M260.2 377.17h.45M250.91 372.74h.45M256.95 381.68h.45M264.88 385.91h.45M256.33 381.14h.45M251.71 385.8h.45M253.89 384.36h.45M262.79 383.26h.45M259.12 381.48h.45M255.13 380.59h.45M255.69 378.77h.45M263.63 385.04h.45M255.8 386.43h.45M256.47 384.59h.45M260.48 387.62h.45M266.43 382.9h.45M265.31 387.26h.45M246.44 371.69h.45M247.32 374.48h.45M248.44 371.79h.45M256.13 381.29h.45M250.89 376.23h.45M254.14 379.6h.45M255.13 379.25h.45M262.21 379.31h.45M251.91 378.25h.45M253.55 376.97h.45M252.09 378.64h.45M261.83 384.07h.45M252.77 379.63h.45M256.71 374.29h.45M256.88 379.92h.45M250.66 379.13h.45M255.98 378.63h.45M245.9 367.48h.45M255.07 379.57h.45M256.8 381.99h.45M254.32 374.99h.45M249.12 375.33h.45M247.34 377.25h.45M250.61 370.53h.45M256.7 374.85h.45M265.25 383.6h.45M254.93 379.02h.45M253.31 372.5h.45M243.3 374.81h.45M256.72 388.8h.45M245.96 375.6h.45M253.32 381.76h.45M250.82 379.57h.45M258.63 384.63h.45M262.91 384.86h.45M264.31 383.98h.45M268.38 379.59h.45M256.2 377.95h.45M253.09 382.26h.45M258.52 382.74h.45M266.45 382.74h.45M247.89 380.3h.45M260.02 376.11h.45M258.61 378.28h.45M260.88 388.11h.45M249.69 380.8h.45M248.76 378.83h.45M258.14 381.69h.45M247.58 373.75h.45M243.36 369.79h.45M242.77 375.68h.45M253.62 370.36h.45M257.35 382.89h.45M248.54 382.91h.45M258.87 382.89h.45M256.23 370.34h.45M255.8 383.9h.45M253.95 374.2h.45M257.36 375.67h.45M253.56 381.66h.45M262.52 386.15h.45M254.61 382.33h.45M262.9 384.34h.45M249.48 373.27h.45M249.47 372.92h.45M253.58 380.16h.45M255.53 380.56h.45M252.16 379.45h.45M258.32 384.96h.45M263.38 384.78h.45M250.62 382.87h.45M255.2 381.54h.45M251.37 380.83h.45M254.3 375.88h.45M255.21 378.52h.45M259.94 382.06h.45M255.83 379.75h.45M257.69 379.59h.45M263.14 380.6h.45M253.9 376.66h.45M258.24 382.35h.45M257.97 380.85h.45M252.78 374.42h.45M253.88 377.26h.45M255.72 381.7h.45M260.26 383.25h.45M252.52 374.45h.45M254.53 380.89h.45M265.03 387.61h.45M261.19 390.9h.45M247.12 378.71h.45M258.71 387.3h.45M253.16 382.03h.45M252.32 377.81h.45M251.94 384.11h.45M252.05 381.25h.45M256.34 378.37h.45M255.01 382.29h.45M249.9 378.61h.45M252.41 375.02h.45M256.38 380.07h.45M252.2 372.21h.45M254.52 380.47h.45M252 378.51h.45M245.89 374.95h.45M256.59 382.04h.45M251.35 377.67h.45M253.72 382.83h.45M255.87 381.45h.45M249.45 379.11h.45M261.96 383.07h.45M257.74 382.95h.45M256.69 376.57h.45M267.4 382.02h.45M257.06 380.05h.45M261.69 383.13h.45M254 381.4h.45M258.13 380.29h.45M257.83 383.31h.45M260.99 382.33h.45M255.2 378.7h.45M249.85 377.24h.45M254.65 384.71h.45M252.4 379.49h.45M261.16 383.85h.45M254.92 380.36h.45M252.72 374.85h.45M260.54 384.43h.45M256.46 376.58h.45M253.49 383.02h.45M250.08 373.35h.45M258.41 387.37h.45M264.08 384.35h.45M259.28 380.29h.45M258.21 380.9h.45M253.63 383.71h.45M257.02 380.51h.45M254.66 380.64h.45M251.7 378.36h.45M255.45 385.75h.45M245.68 369.22h.45M246.7 377.21h.45M267.6 389.45h.45M253.57 382.95h.45M241.97 370.19h.45M237.8 368.44h.45M252.87 376.74h.45M257.59 379.7h.45M260.78 383.97h.45M252.65 387.22h.45M250.86 380.3h.45M248.3 379.63h.45M259.75 383.76h.45M257.47 387.32h.45M262.19 384.98h.45M252.68 382.21h.45M247.9 372.85h.45M256.46 382.96h.45M261.88 390.93h.45M255.81 382.06h.45M248.04 374.42h.45M256.57 380.25h.45M254.12 381.46h.45M250.64 374.9h.45M243.4 375.83h.45M251.96 371.84h.45M259.28 382.18h.45M260.58 382.55h.45M265 389.44h.45M255.42 380.64h.45M252.37 380.93h.45M266.19 386.3h.45M248 377.13h.45M262.96 380.29h.45M252.74 374.87h.45M256.97 383.09h.45M252.73 374.41h.45M261.83 377.53h.45M258.49 381.84h.45M263.42 389.31h.45M252.16 376.99h.45M254.52 377.06h.45M253.65 382.37h.45M247.13 373.64h.45M261.54 387.11h.45M251.78 374.87h.45M252.88 372.85h.45M260.82 384.25h.45M253.43 373.84h.45M253.59 377.17h.45M264.72 385.14h.45M253.66 382.74h.45M258.65 381.87h.45M240.89 374.95h.45M258.69 381.01h.45M255.89 377.24h.45M252.45 372.99h.45M256.62 382.88h.45M254.45 382.27h.45M257.45 382.08h.45M249.14 377.89h.45M260.08 385.69h.45M262.2 383.34h.45M247.55 379.08h.45M251.3 378.2h.45M253.75 379.14h.45M254.24 377.54h.45M242.22 377.62h.45M259.02 376.07h.45M251.83 373.81h.45M255.02 371.1h.45M255.18 385.76h.45M252.28 380.62h.45M260.02 379.13h.45M264.01 380.4h.45M252.34 376.83h.45M261.27 384.74h.45M255.45 377.47h.45M255.21 380.23h.45M256.4 385.76h.45M258.68 382.58h.45M251.38 382.96h.45M255.89 380.51h.45M261.76 390.11h.45M257.99 381.66h.45M249.7 379.93h.45M250.84 380.35h.45M250.48 377.14h.45M256.69 381.63h.45M255.42 381.55h.45M250.67 373.06h.45M251.08 383.45h.45M255.65 377.19h.45M251.26 377.44h.45M261.97 382.86h.45M257.46 382.31h.45M254.45 376.29h.45M255.17 377.56h.45M260.5 377.7h.45M259.53 385.73h.45M255.42 385.42h.45M260.76 378.07h.45M254.35 381.04h.45M253.03 374.65h.45M256.25 382.59h.45M252.95 377.67h.45M253.05 376.61h.45M252.75 382.08h.45M246.86 373.06h.45M262.8 386.5h.45M254.26 382.31h.45M251.47 373.29h.45M248.41 370.29h.45M254.73 382.69h.45M253.71 376.69h.45M255.93 382.71h.45M259.24 376.34h.45M256.04 371.93h.45M257.46 378.73h.45M248.91 380.86h.45M260.98 385.79h.45M255.97 381.22h.45M251.8 377.52h.45M266.29 384.82h.45M251.05 377.73h.45M258.15 385.02h.45M249.92 375.94h.45M255.4 375.97h.45M255.99 378.97h.45M258.94 384.19h.45M250.57 377.11h.45M253.95 377.02h.45M250.52 380.47h.45M255.4 374.32h.45M249.42 378.81h.45M267.82 385.29h.45M253.46 377.73h.45M246.75 375.55h.45M254.08 380.26h.45M267 387.43h.45M257.62 384.65h.45M252.42 376.09h.45M261.83 387.19h.45M257.32 377.8h.45M258.59 384.27h.45M263.97 391.3h.45M258.59 383.38h.45M256.02 378.76h.45M256.03 381.5h.45M256.47 384.71h.45M257.32 379.7h.45M256.53 386.36h.45M249.73 377.7h.45M256.81 383.06h.45M257.6 381.45h.45M251.54 383.32h.45M266.17 382.94h.45M240.76 371.48h.45M252.09 376.13h.45M245.85 374.75h.45M255.39 378.35h.45M255.59 388.72h.45M260.65 387.94h.45M251.57 379.81h.45M252.73 382.33h.45M257.92 381.86h.45M258.87 380.18h.45M256.53 386.19h.45M252 379.76h.45M244.54 375.84h.45M261.06 380.67h.45M263.78 386.48h.45M247.92 370.28h.45M259.83 382.39h.45M263.1 380.28h.45M252.7 381.69h.45M250.14 378.88h.45M252.36 379.28h.45M252.89 386.14h.45M247.04 377.05h.45M263.51 382.03h.45M251.5 385.43h.45M265.11 376.82h.45M256.32 374.98h.45M257.57 379.24h.45M253.2 375.8h.45M257.1 379.81h.45M250.42 375.95h.45M258.32 379.32h.45M263.32 380.05h.45M257.57 380.4h.45M264.1 384.1h.45M253.48 374.26h.45M264.23 388.53h.45M249.65 375.04h.45M247.31 379.79h.45M260.29 376.64h.45M254.42 382.68h.45M254.05 380.9h.45M253.88 379.88h.45M257.06 378.95h.45M256.36 381.46h.45M255.7 378.08h.45M249.08 376.64h.45M263.05 377.26h.45M249.8 380.96h.45M260.76 381.52h.45M263.5 382.5h.45M247.52 381.37h.45M252.86 377.7h.45M247.77 371.4h.45M248.85 375.16h.45M243.44 375.5h.45M253.91 377.09h.45M250.26 379.18h.45M263.52 384.5h.45M260.68 389.46h.45M261.37 385.43h.45M245.88 375.87h.45M252.34 378.74h.45M245.35 372.21h.45M257.54 378.49h.45M253.64 384.75h.45M257.12 379.07h.45M270.83 383.61h.45M249.3 377.36h.45M255.4 372.32h.45M254.82 382.68h.45M248.24 380.26h.45M255.5 384.4h.45M246.77 374.17h.45M259.95 390.36h.45M261.74 384.66h.45M256.78 379.02h.45M261.71 382.24h.45M258.8 375.48h.45M243.99 378.37h.45M254.76 380.52h.45M243.29 371.62h.45M268.14 383.98h.45M242.53 370.65h.45M252.34 377.35h.45M250.37 372.02h.45M247.24 376.72h.45M253.22 381.53h.45M248.15 377.18h.45M252.32 378.37h.45M259.67 383.33h.45M255.65 374.64h.45M253.86 381.86h.45M251.57 377.31h.45M247.63 370.16h.45M254.82 384.3h.45M255.88 374.77h.45M255.34 374.76h.45M250.2 383.27h.45M256.63 380.55h.45M260.91 382.76h.45M256.23 381.5h.45M259.56 378.03h.45M257.13 384.49h.45M247.13 365.02h.45M247.62 379.95h.45M253.8 381.46h.45M256.29 383.93h.45M252.37 376.06h.45M255.8 382.62h.45M257.29 382.73h.45M250.42 380.58h.45M255.57 384.04h.45M239.65 372.7h.45M241.49 371.22h.45M251.07 377.61h.45M252.78 377.3h.45M255.26 381.33h.45M254.69 370.91h.45M249.76 378.16h.45M249.61 377.66h.45M254.38 376.22h.45M258.31 388.04h.45M254.33 379.3h.45M262.09 380.27h.45M248.29 379.2h.45M260.42 382.01h.45M250.08 377.72h.45M248.11 373.37h.45M257.61 373.16h.45M256.7 383.8h.45M262.86 380.41h.45M249.28 373.08h.45M244.44 379.74h.45M250.09 375.41h.45M255.15 381.64h.45M264.36 382.68h.45M259.26 383.45h.45M248.28 375.76h.45M244.62 378.36h.45M249.23 379.43h.45M262.79 383.23h.45M249.77 376.74h.45M247.69 377.98h.45M257 378.66h.45M249.92 378.94h.45M244.23 378.34h.45M250.91 376.39h.45M247.15 380.16h.45M257.07 385.97h.45M258.16 382.47h.45M262.81 387.75h.45M256.19 382.81h.45M258.3 383.23h.45M256.54 375.4h.45M268.03 384.48h.45M244.39 370h.45M263.19 389.97h.45M251.12 378.16h.45M257.96 375.01h.45M252.52 379.23h.45M263.11 381.37h.45M245.25 367.55h.45M256.45 381.24h.45M255.36 380.72h.45M255.09 375.18h.45M256.61 382.43h.45M255.85 384.94h.45M252 369.57h.45" stroke="#4a4a4a" stroke-width="0.45" fill="none" opacity="0.8"/>
<path d="M238.16 377.06h.45M243.34 375.04h.45M246.04 377.54h.45M258.76 381.3h.45M247.16 374.37h.45M247.2 377.62h.45M242 376.91h.45M250.41 379.25h.45M246.91 375.27h.45M240.49 374.13h.45M244.25 372.96h.45M251.6 376h.45M244.12 376.81h.45M254.29 378.22h.45M251.64 376.79h.45M247.74 377.82h.45M241.78 375.94h.45M253.17 379.71h.45M249.4 374h.45M253.11 379.71h.45M241.62 375.1h.45M242.8 371.59h.45M237.9 374.72h.45M255.45 379.05h.45M245.46 373.44h.45M244.35 376.07h.45M253.31 376.74h.45M250.78 372.98h.45M252.39 378.86h.45M242.66 377.91h.45M244.92 378.75h.45M248.65 381.74h.45M244.16 374.52h.45M248.52 376.32h.45M253.17 377.5h.45M248.77 380.96h.45M241.45 369.99h.45M244.55 373.01h.45M248.57 376.4h.45M247.85 375.16h.45M246.11 376.89h.45M250.56 375.8h.45M247.56 374.12h.45M248.18 372.54h.45M249.47 379.36h.45M247.43 374.27h.45M246.25 373.65h.45M239.61 376.45h.45M259.93 379.92h.45M242.23 374.92h.45M251.06 373.81h.45M239.67 373.33h.45M238.32 375.1h.45M245.18 375.19h.45M247.69 374.78h.45M246.88 375.07h.45M251.43 378.29h.45M247.55 374.79h.45M245.72 373.14h.45M244.74 380h.45M250.57 378.74h.45M251.51 381.53h.45M247.92 376.06h.45M242.89 374.34h.45M247.89 371.94h.45M240.13 377.62h.45M247.12 377.51h.45M248.27 375.39h.45M247.24 379.27h.45M245.29 376.49h.45M251.16 377h.45M248.51 374.74h.45M249.55 376.41h.45M251.93 376.64h.45M253.24 378.71h.45M245.22 372.36h.45M250.37 375.47h.45M251.65 382.39h.45M250.57 373.96h.45M247.82 374.38h.45M240.19 373.3h.45M255.3 379.24h.45M248.2 380.4h.45M244.1 373.34h.45M247.34 377.56h.45M242.76 374.18h.45M245.44 377.85h.45M242.17 371.58h.45M245.65 374.31h.45M250.29 376.08h.45" stroke="#777" stroke-width="0.45" fill="none" opacity="0.8"/>
<path d="M276.95 387.36h.45M269.36 388.92h.45M269.86 387.82h.45M262.68 387.77h.45M268.66 388.11h.45M268.33 388.52h.45M262.46 387.16h.45M271.76 387.56h.45M259.66 389.67h.45M262.67 387.16h.45M269.87 386.98h.45M262.52 388.94h.45M262.72 390.26h.45M266.39 390.42h.45M266.52 388.05h.45M263.43 387.8h.45M264 387.98h.45M269.09 386.86h.45M262.33 386.12h.45M272.02 387.93h.45M265.95 387.95h.45M270.02 388.29h.45M269.4 387.85h.45M265.52 387.95h.45M258.55 388.98h.45M259.69 387.1h.45M268.68 388.05h.45M269.25 389.54h.45M273.45 389.24h.45M265.1 389.84h.45M262.48 387.92h.45M269.99 387.81h.45M265.52 387.68h.45M271.46 385.78h.45M271.09 388.95h.45M265.71 388.51h.45M262.13 389h.45M278.24 387.17h.45M271.58 387.95h.45M264.65 387.56h.45" stroke="#666" stroke-width="0.45" fill="none" opacity="0.8"/>
</g>
<rect x="229" y="331.2" width="53.9" height="60" fill="none" stroke="#2a2a2a" stroke-width="0.7"/>
<line x1="229" y1="337.9" x2="282.9" y2="337.9" stroke="#2a2a2a" stroke-width="0.6"/>
<line x1="252.5" y1="337.9" x2="252.5" y2="391.2" stroke="#2a2a2a" stroke-width="0.55"/>
<line x1="268.5" y1="337.9" x2="268.5" y2="391.2" stroke="#2a2a2a" stroke-width="0.55"/>
<line x1="229" y1="371.5" x2="282.9" y2="371.5" stroke="#2a2a2a" stroke-width="0.55"/>
<line x1="229" y1="384.4" x2="282.9" y2="384.4" stroke="#2a2a2a" stroke-width="0.55"/>
<text x="230.6" y="336.8" font-size="4.6" textLength="22.6" lengthAdjust="spacingAndGlyphs" fill="#3a3a3a" class="s">RBC V/HC</text>
<path d="M35.6 423.8 C37.21 422.8 37.4 412 37.9 407.5 C38.7 413 40.7 420.8 41.7 423.8 Z" fill="#b9b9bd" stroke="#9a9aa0" stroke-width="0.3"/>
<rect x="21.5" y="399.2" width="35.2" height="24.6" fill="none" stroke="#2a2a2a" stroke-width="0.7"/>
<line x1="21.5" y1="406" x2="56.7" y2="406" stroke="#2a2a2a" stroke-width="0.6"/>
<line x1="36.5" y1="406" x2="36.5" y2="423.8" stroke="#2a2a2a" stroke-width="0.55"/>
<line x1="47.5" y1="406" x2="47.5" y2="423.8" stroke="#2a2a2a" stroke-width="0.55"/>
<text x="23.3" y="404.8" font-size="4.6" textLength="17.3" lengthAdjust="spacingAndGlyphs" fill="#3a3a3a" class="s">RBC HC</text>
<path d="M70.8 423.8 C72.34 422.8 72.5 412 73 407.5 C73.8 413 77.3 420.8 78.3 423.8 Z" fill="#b9b9bd" stroke="#9a9aa0" stroke-width="0.3"/>
<rect x="66.7" y="399.2" width="34.6" height="24.6" fill="none" stroke="#2a2a2a" stroke-width="0.7"/>
<line x1="66.7" y1="406" x2="101.3" y2="406" stroke="#2a2a2a" stroke-width="0.6"/>
<line x1="71.5" y1="406" x2="71.5" y2="423.8" stroke="#2a2a2a" stroke-width="0.55"/>
<line x1="80.2" y1="406" x2="80.2" y2="423.8" stroke="#2a2a2a" stroke-width="0.55"/>
<text x="68.5" y="404.8" font-size="4.6" textLength="27.3" lengthAdjust="spacingAndGlyphs" fill="#3a3a3a" class="s">RBC Volume</text>
<path d="M128.3 423.8 C132.29 422.8 133.5 412 134 407.5 C134.8 413 136.2 420.8 137.2 423.8 Z" fill="#b9b9bd" stroke="#9a9aa0" stroke-width="0.3"/>
<rect x="118.7" y="399.2" width="35.1" height="24.6" fill="none" stroke="#2a2a2a" stroke-width="0.7"/>
<line x1="118.7" y1="406" x2="153.8" y2="406" stroke="#2a2a2a" stroke-width="0.6"/>
<line x1="134.6" y1="406" x2="134.6" y2="423.8" stroke="#2a2a2a" stroke-width="0.55"/>
<line x1="145" y1="406" x2="145" y2="423.8" stroke="#2a2a2a" stroke-width="0.55"/>
<text x="120.5" y="404.8" font-size="4.6" textLength="17.3" lengthAdjust="spacingAndGlyphs" fill="#3a3a3a" class="s">RBC HC</text>
<path d="M166.5 423.8 C169.32 423.8 169.8 408 171.2 408.2 C172.8 408 176.4 417.8 177 423.8 Z" fill="#b9b9bd" stroke="#9a9aa0" stroke-width="0.3"/>
<rect x="163.8" y="399.2" width="35.2" height="24.6" fill="none" stroke="#2a2a2a" stroke-width="0.7"/>
<line x1="163.8" y1="406" x2="199" y2="406" stroke="#2a2a2a" stroke-width="0.6"/>
<line x1="168.3" y1="406" x2="168.3" y2="423.8" stroke="#2a2a2a" stroke-width="0.55"/>
<line x1="176.7" y1="406" x2="176.7" y2="423.8" stroke="#2a2a2a" stroke-width="0.55"/>
<text x="165.6" y="404.8" font-size="4.6" textLength="27.3" lengthAdjust="spacingAndGlyphs" fill="#3a3a3a" class="s">RBC Volume</text>
<path d="M230 423.8 C232.03 422.8 232.4 412 232.9 407.5 C233.7 413 235.4 420.8 236.4 423.8 Z" fill="#b9b9bd" stroke="#9a9aa0" stroke-width="0.3"/>
<rect x="216" y="399.2" width="34.8" height="24.6" fill="none" stroke="#2a2a2a" stroke-width="0.7"/>
<line x1="216" y1="406" x2="250.8" y2="406" stroke="#2a2a2a" stroke-width="0.6"/>
<line x1="231" y1="406" x2="231" y2="423.8" stroke="#2a2a2a" stroke-width="0.55"/>
<line x1="241.5" y1="406" x2="241.5" y2="423.8" stroke="#2a2a2a" stroke-width="0.55"/>
<text x="217.8" y="404.8" font-size="4.6" textLength="17.3" lengthAdjust="spacingAndGlyphs" fill="#3a3a3a" class="s">RBC HC</text>
<path d="M265.4 423.8 C267.57 422.8 268 412 268.5 407.5 C269.3 413 272.3 420.8 273.3 423.8 Z" fill="#b9b9bd" stroke="#9a9aa0" stroke-width="0.3"/>
<rect x="261.2" y="399.2" width="34.2" height="24.6" fill="none" stroke="#2a2a2a" stroke-width="0.7"/>
<line x1="261.2" y1="406" x2="295.4" y2="406" stroke="#2a2a2a" stroke-width="0.6"/>
<line x1="266" y1="406" x2="266" y2="423.8" stroke="#2a2a2a" stroke-width="0.55"/>
<line x1="274.2" y1="406" x2="274.2" y2="423.8" stroke="#2a2a2a" stroke-width="0.55"/>
<text x="263" y="404.8" font-size="4.6" textLength="27.3" lengthAdjust="spacingAndGlyphs" fill="#3a3a3a" class="s">RBC Volume</text>
<line x1="347.8" y1="315.4" x2="347.8" y2="322.6" stroke="#231f20" stroke-width="1.2"/>
<line x1="346.1" y1="315.4" x2="349.5" y2="315.4" stroke="#231f20" stroke-width="1.2"/>
<rect x="340.8" y="322.1" width="14" height="73.9" fill="#2d4a80"/>
<line x1="371.35" y1="308.5" x2="371.35" y2="313.8" stroke="#231f20" stroke-width="1.2"/>
<line x1="369.65" y1="308.5" x2="373.05" y2="308.5" stroke="#231f20" stroke-width="1.2"/>
<rect x="364.4" y="313.3" width="13.9" height="82.7" fill="#a3002a"/>
<line x1="394.9" y1="315.2" x2="394.9" y2="320.1" stroke="#231f20" stroke-width="1.2"/>
<line x1="393.2" y1="315.2" x2="396.6" y2="315.2" stroke="#231f20" stroke-width="1.2"/>
<rect x="387.9" y="319.6" width="14" height="76.4" fill="#67a843"/>
<line x1="336" y1="297" x2="336" y2="396.65" stroke="#231f20" stroke-width="1.7"/>
<line x1="335.35" y1="396" x2="405.6" y2="396" stroke="#231f20" stroke-width="1.7"/>
<line x1="332.4" y1="300" x2="336" y2="300" stroke="#231f20" stroke-width="1.2"/>
<text x="328.6" y="302.6" font-size="7.2" text-anchor="end" textLength="7.9" lengthAdjust="spacingAndGlyphs">30</text>
<line x1="332.4" y1="316.2" x2="336" y2="316.2" stroke="#231f20" stroke-width="1.2"/>
<text x="328.6" y="318.8" font-size="7.2" text-anchor="end" textLength="7.9" lengthAdjust="spacingAndGlyphs">25</text>
<line x1="332.4" y1="332.1" x2="336" y2="332.1" stroke="#231f20" stroke-width="1.2"/>
<text x="328.6" y="334.7" font-size="7.2" text-anchor="end" textLength="7.9" lengthAdjust="spacingAndGlyphs">20</text>
<line x1="332.4" y1="348.1" x2="336" y2="348.1" stroke="#231f20" stroke-width="1.2"/>
<text x="328.6" y="350.7" font-size="7.2" text-anchor="end" textLength="7.9" lengthAdjust="spacingAndGlyphs">15</text>
<line x1="332.4" y1="364" x2="336" y2="364" stroke="#231f20" stroke-width="1.2"/>
<text x="328.6" y="366.6" font-size="7.2" text-anchor="end" textLength="7.9" lengthAdjust="spacingAndGlyphs">10</text>
<line x1="332.4" y1="380" x2="336" y2="380" stroke="#231f20" stroke-width="1.2"/>
<text x="328.6" y="382.6" font-size="7.2" text-anchor="end" textLength="3.95" lengthAdjust="spacingAndGlyphs">5</text>
<line x1="332.4" y1="396" x2="336" y2="396" stroke="#231f20" stroke-width="1.2"/>
<text x="328.6" y="398.6" font-size="7.2" text-anchor="end" textLength="3.95" lengthAdjust="spacingAndGlyphs">0</text>
<text transform="translate(314.4 368.9) rotate(-90)" font-size="9" textLength="45.3" lengthAdjust="spacingAndGlyphs">CHCM (g/dL)</text>
<text x="0" y="0" font-size="7.6" text-anchor="end" textLength="10.2" lengthAdjust="spacingAndGlyphs" transform="translate(348 401.6) rotate(-45)">AA</text>
<text x="0" y="0" font-size="7.6" text-anchor="end" textLength="41" lengthAdjust="spacingAndGlyphs" transform="translate(370 402.5) rotate(-45)">SS + vehicle</text>
<text x="0" y="0" font-size="7.6" text-anchor="end" textLength="16" lengthAdjust="spacingAndGlyphs" transform="translate(375.8 408.2) rotate(-45)">(6 w)</text>
<text x="0" y="0" font-size="7.6" text-anchor="end" textLength="33" lengthAdjust="spacingAndGlyphs" transform="translate(397 402) rotate(-45)">SS + RBC</text>
<text x="0" y="0" font-size="7.6" text-anchor="end" textLength="16" lengthAdjust="spacingAndGlyphs" transform="translate(403 408.4) rotate(-45)">(6 w)</text>
<text x="371.5" y="308.8" font-size="6.8" text-anchor="middle" font-weight="bold" class="s">*</text>
<ellipse cx="395" cy="308.5" rx="1.45" ry="1.15" fill="none" stroke="#231f20" stroke-width="0.8"/>
<line x1="454.15" y1="355.3" x2="454.15" y2="357.6" stroke="#231f20" stroke-width="1.2"/>
<line x1="452.45" y1="355.3" x2="455.85" y2="355.3" stroke="#231f20" stroke-width="1.2"/>
<rect x="447.3" y="357.1" width="13.7" height="38.9" fill="#2d4a80"/>
<line x1="477.8" y1="313.3" x2="477.8" y2="318.8" stroke="#231f20" stroke-width="1.2"/>
<line x1="476.1" y1="313.3" x2="479.5" y2="313.3" stroke="#231f20" stroke-width="1.2"/>
<rect x="470.9" y="318.3" width="13.8" height="77.7" fill="#a3002a"/>
<line x1="501.15" y1="348.6" x2="501.15" y2="351.7" stroke="#231f20" stroke-width="1.2"/>
<line x1="499.45" y1="348.6" x2="502.85" y2="348.6" stroke="#231f20" stroke-width="1.2"/>
<rect x="494.4" y="351.2" width="13.5" height="44.8" fill="#67a843"/>
<line x1="442.1" y1="298.8" x2="442.1" y2="396.65" stroke="#231f20" stroke-width="1.7"/>
<line x1="441.45" y1="396" x2="511.3" y2="396" stroke="#231f20" stroke-width="1.7"/>
<line x1="438.8" y1="302.2" x2="442.1" y2="302.2" stroke="#231f20" stroke-width="1.2"/>
<text x="435.2" y="304.8" font-size="7.2" text-anchor="end" textLength="3.95" lengthAdjust="spacingAndGlyphs">6</text>
<line x1="438.8" y1="317.9" x2="442.1" y2="317.9" stroke="#231f20" stroke-width="1.2"/>
<text x="435.2" y="320.5" font-size="7.2" text-anchor="end" textLength="3.95" lengthAdjust="spacingAndGlyphs">5</text>
<line x1="438.8" y1="333.5" x2="442.1" y2="333.5" stroke="#231f20" stroke-width="1.2"/>
<text x="435.2" y="336.1" font-size="7.2" text-anchor="end" textLength="3.95" lengthAdjust="spacingAndGlyphs">4</text>
<line x1="438.8" y1="349.2" x2="442.1" y2="349.2" stroke="#231f20" stroke-width="1.2"/>
<text x="435.2" y="351.8" font-size="7.2" text-anchor="end" textLength="3.95" lengthAdjust="spacingAndGlyphs">3</text>
<line x1="438.8" y1="364.8" x2="442.1" y2="364.8" stroke="#231f20" stroke-width="1.2"/>
<text x="435.2" y="367.4" font-size="7.2" text-anchor="end" textLength="3.95" lengthAdjust="spacingAndGlyphs">2</text>
<line x1="438.8" y1="380.3" x2="442.1" y2="380.3" stroke="#231f20" stroke-width="1.2"/>
<text x="435.2" y="382.9" font-size="7.2" text-anchor="end" textLength="3.95" lengthAdjust="spacingAndGlyphs">1</text>
<line x1="438.8" y1="396" x2="442.1" y2="396" stroke="#231f20" stroke-width="1.2"/>
<text x="435.2" y="398.6" font-size="7.2" text-anchor="end" textLength="3.95" lengthAdjust="spacingAndGlyphs">0</text>
<text transform="translate(424.9 367.8) rotate(-90)" font-size="9" textLength="41" lengthAdjust="spacingAndGlyphs">HDW (g/dL)</text>
<text x="0" y="0" font-size="7.6" text-anchor="end" textLength="10.2" lengthAdjust="spacingAndGlyphs" transform="translate(453.8 401.6) rotate(-45)">AA</text>
<text x="0" y="0" font-size="7.6" text-anchor="end" textLength="41" lengthAdjust="spacingAndGlyphs" transform="translate(475.5 402.5) rotate(-45)">SS + vehicle</text>
<text x="0" y="0" font-size="7.6" text-anchor="end" textLength="20.8" lengthAdjust="spacingAndGlyphs" transform="translate(482.3 408.4) rotate(-45)">(6 w)S</text>
<text x="0" y="0" font-size="7.6" text-anchor="end" textLength="33" lengthAdjust="spacingAndGlyphs" transform="translate(503.2 402) rotate(-45)">SS + RBC</text>
<text x="0" y="0" font-size="7.6" text-anchor="end" textLength="16" lengthAdjust="spacingAndGlyphs" transform="translate(508.5 408.4) rotate(-45)">(6 w)</text>
<text x="477.6" y="313.6" font-size="6.8" text-anchor="middle" font-weight="bold" class="s">*</text>
<ellipse cx="501.2" cy="343" rx="1.45" ry="1.15" fill="none" stroke="#231f20" stroke-width="0.8"/>
<!-- Panel D -->
<text x="8.9" y="479.1" font-size="12.2" textLength="9.5" lengthAdjust="spacingAndGlyphs" font-weight="bold">D</text>
<line x1="36.6" y1="494" x2="36.6" y2="613.3" stroke="#231f20" stroke-width="1.1"/>
<path d="M36.6 489.8 L39.9 496.8 L33.3 496.8 Z" fill="#231f20"/>
<line x1="46" y1="623.7" x2="288" y2="623.7" stroke="#231f20" stroke-width="1.15"/>
<path d="M292.4 623.7 L285.6 620.5 L285.6 626.9 Z" fill="#231f20"/>
<text transform="translate(30 581.7) rotate(-90)" font-size="9.4" textLength="60.1" lengthAdjust="spacingAndGlyphs">Arbitrary unit (%)</text>
<text x="296.75" y="627" font-size="9.1" textLength="51.5" lengthAdjust="spacingAndGlyphs">Retention time</text>
<text x="68.3" y="488" font-size="7.6" textLength="23.7" lengthAdjust="spacingAndGlyphs">Vehicle</text>
<text x="72.1" y="496.2" font-size="7.6" textLength="16.4" lengthAdjust="spacingAndGlyphs">(6 w)</text>
<text x="199.8" y="480.8" font-size="7.6" textLength="82.7" lengthAdjust="spacingAndGlyphs">RBC transfusion regimen</text>
<line x1="128.5" y1="484" x2="353.7" y2="484" stroke="#231f20" stroke-width="1.2"/>
<rect x="147.1" y="488.1" width="28.9" height="13" fill="#d9dbdb"/>
<text x="156.2" y="496.6" font-size="7.6" textLength="11.5" lengthAdjust="spacingAndGlyphs">1 w</text>
<rect x="224.2" y="488.1" width="28.8" height="13" fill="#d9dbdb"/>
<text x="232.9" y="496.6" font-size="7.6" textLength="12.1" lengthAdjust="spacingAndGlyphs">3 w</text>
<rect x="308.1" y="488.1" width="28.5" height="13" fill="#d9dbdb"/>
<text x="316" y="496.6" font-size="7.6" textLength="11.9" lengthAdjust="spacingAndGlyphs">6 w</text>
<polyline fill="none" stroke="#b3103c" stroke-width="1.1" stroke-linejoin="round" points="45.6,596.3 45.85,596.34 46.1,596.38 46.35,596.41 46.6,596.44 46.85,596.46 47.1,596.47 47.35,596.46 47.6,596.45 47.85,596.42 48.1,596.38 48.35,596.34 48.6,596.31 48.85,596.27 49.1,596.25 49.35,596.23 49.6,596.23 49.85,596.24 50.1,596.26 50.35,596.29 50.6,596.32 50.85,596.36 51.1,596.4 51.35,596.43 51.6,596.45 51.85,596.47 52.1,596.46 52.35,596.45 52.6,596.43 52.85,596.39 53.1,596.36 53.35,596.32 53.6,596.28 53.85,596.25 54.1,596.23 54.35,596.23 54.6,596.23 54.85,596.25 55.1,596.28 55.35,596.31 55.6,596.35 55.85,596.39 56.1,596.42 56.35,596.45 56.6,596.46 56.85,596.47 57.1,596.46 57.35,596.44 57.6,596.41 57.85,596.37 58.1,596.33 58.35,596.29 58.6,596.26 58.85,596.24 59.1,596.23 59.35,596.23 59.6,596.24 59.85,596.27 60.1,596.3 60.35,596.34 60.6,596.37 60.85,596.41 61.1,596.44 61.35,596.46 61.6,596.47 61.85,596.46 62.1,596.44 62.35,596.42 62.6,596.38 62.85,596.34 63.1,596.3 63.35,596.27 63.6,596.24 63.85,596.23 64.1,596.22 64.35,596.23 64.6,596.25 64.85,596.28 65.1,596.32 65.35,596.36 65.6,596.4 65.85,596.43 66.1,596.45 66.35,596.46 66.6,596.46 66.85,596.45 67.1,596.42 67.35,596.39 67.6,596.35 67.85,596.31 68.1,596.28 68.35,596.25 68.6,596.23 68.85,596.22 69.1,596.23 69.35,596.25 69.6,596.27 69.85,596.31 70.1,596.35 70.35,596.38 70.6,596.42 70.85,596.44 71.1,596.46 71.35,596.46 71.6,596.45 71.85,596.43 72.1,596.4 72.35,596.36 72.6,596.33 72.85,596.29 73.1,596.26 73.35,596.23 73.6,596.22 73.85,596.22 74.1,596.24 74.35,596.26 74.6,596.29 74.85,596.33 75.1,596.36 75.35,596.39 75.6,596.39 75.85,596.37 76.1,596.3 76.35,596.16 76.6,595.97 76.85,595.73 77.1,595.47 77.35,595.24 77.6,595.11 77.7,595.08 77.85,595.08 78.1,595.18 78.35,595.36 78.6,595.58 78.85,595.8 79.1,595.99 79.35,596.13 79.6,596.24 79.85,596.32 80.1,596.37 80.35,596.41 80.6,596.44 80.85,596.45 81.1,596.45 81.35,596.44 81.6,596.41 81.85,596.38 82.1,596.34 82.35,596.3 82.6,596.27 82.85,596.24 83.1,596.22 83.35,596.21 83.6,596.21 83.85,596.23 84.1,596.26 84.35,596.29 84.6,596.33 84.85,596.37 85.1,596.4 85.35,596.42 85.6,596.44 85.85,596.44 86.1,596.43 86.35,596.41 86.6,596.38 86.85,596.34 87.1,596.3 87.35,596.26 87.6,596.23 87.85,596.21 88.1,596.19 88.35,596.19 88.6,596.2 88.85,596.23 89.1,596.26 89.35,596.29 89.6,596.33 89.85,596.37 90.1,596.39 90.35,596.41 90.6,596.41 90.85,596.41 91.1,596.39 91.35,596.36 91.6,596.32 91.85,596.28 92.1,596.24 92.35,596.2 92.6,596.17 92.85,596.15 93.1,596.14 93.35,596.15 93.6,596.16 93.85,596.19 94.1,596.22 94.35,596.25 94.6,596.28 94.85,596.3 95.1,596.32 95.35,596.32 95.6,596.31 95.85,596.28 96.1,596.25 96.35,596.2 96.6,596.14 96.85,596.09 97.1,596.03 97.35,595.98 97.6,595.93 97.85,595.89 98.1,595.86 98.35,595.83 98.6,595.8 98.85,595.77 99.1,595.74 99.35,595.68 99.6,595.59 99.85,595.45 100.1,595.22 100.35,594.81 100.6,594.06 100.85,592.67 101.1,590.18 101.35,586.03 101.6,579.62 101.85,570.4 102.1,557.36 102.35,537.69 102.6,512.64 102.7,508.73 102.7,508.73 102.85,516.91 103.1,542.36 103.35,560.37 103.6,572.5 103.85,581.11 104.1,587.02 104.35,590.79 104.6,593.02 104.85,594.25 105.1,594.91 105.35,595.28 105.6,595.48 105.85,595.61 106.1,595.69 106.35,595.75 106.6,595.78 106.85,595.81 107.1,595.83 107.35,595.86 107.6,595.9 107.85,595.94 108.1,595.98 108.35,596.04 108.6,596.1 108.85,596.15 109.1,596.21 109.35,596.25 109.6,596.29 109.85,596.31 110.1,596.32 110.35,596.32 110.6,596.3 110.85,596.28 111.1,596.25 111.35,596.21 111.6,596.18 111.85,596.16 112.1,596.15 112.35,596.14 112.6,596.15 112.85,596.17 113.1,596.21 113.35,596.24 113.6,596.29 113.85,596.33 114.1,596.36 114.35,596.39 114.6,596.41"/>
<line x1="45.6" y1="597.7" x2="114.8" y2="597.7" stroke="#9a9a9a" stroke-width="0.5"/>
<line x1="45.6" y1="504.6" x2="45.6" y2="599.5" stroke="#231f20" stroke-width="1.45"/>
<line x1="42.6" y1="598.8" x2="114.8" y2="598.8" stroke="#231f20" stroke-width="1.45"/>
<line x1="42.6" y1="507" x2="45.6" y2="507" stroke="#231f20" stroke-width="1.1"/>
<line x1="43.9" y1="512.94" x2="45.6" y2="512.94" stroke="#231f20" stroke-width="0.9"/>
<line x1="43.9" y1="518.88" x2="45.6" y2="518.88" stroke="#231f20" stroke-width="0.9"/>
<line x1="43.9" y1="524.82" x2="45.6" y2="524.82" stroke="#231f20" stroke-width="0.9"/>
<line x1="43.9" y1="530.76" x2="45.6" y2="530.76" stroke="#231f20" stroke-width="0.9"/>
<line x1="42.6" y1="536.7" x2="45.6" y2="536.7" stroke="#231f20" stroke-width="1.1"/>
<line x1="43.9" y1="542.64" x2="45.6" y2="542.64" stroke="#231f20" stroke-width="0.9"/>
<line x1="43.9" y1="548.58" x2="45.6" y2="548.58" stroke="#231f20" stroke-width="0.9"/>
<line x1="43.9" y1="554.52" x2="45.6" y2="554.52" stroke="#231f20" stroke-width="0.9"/>
<line x1="43.9" y1="560.46" x2="45.6" y2="560.46" stroke="#231f20" stroke-width="0.9"/>
<line x1="42.6" y1="566.4" x2="45.6" y2="566.4" stroke="#231f20" stroke-width="1.1"/>
<line x1="43.9" y1="572.34" x2="45.6" y2="572.34" stroke="#231f20" stroke-width="0.9"/>
<line x1="43.9" y1="578.28" x2="45.6" y2="578.28" stroke="#231f20" stroke-width="0.9"/>
<line x1="43.9" y1="584.22" x2="45.6" y2="584.22" stroke="#231f20" stroke-width="0.9"/>
<line x1="43.9" y1="590.16" x2="45.6" y2="590.16" stroke="#231f20" stroke-width="0.9"/>
<line x1="42.6" y1="596.1" x2="45.6" y2="596.1" stroke="#231f20" stroke-width="1.1"/>
<line x1="45.6" y1="598.8" x2="45.6" y2="601.8" stroke="#231f20" stroke-width="1.1"/>
<text x="0" y="0" font-size="7.5" text-anchor="end" textLength="10" lengthAdjust="spacingAndGlyphs" transform="translate(48.8 611.2) rotate(-45)">0.0</text>
<line x1="52.18" y1="598.8" x2="52.18" y2="600.7" stroke="#231f20" stroke-width="0.9"/>
<line x1="58.75" y1="598.8" x2="58.75" y2="601.8" stroke="#231f20" stroke-width="1.1"/>
<text x="0" y="0" font-size="7.5" text-anchor="end" textLength="10" lengthAdjust="spacingAndGlyphs" transform="translate(61.95 611.2) rotate(-45)">1.0</text>
<line x1="65.33" y1="598.8" x2="65.33" y2="600.7" stroke="#231f20" stroke-width="0.9"/>
<line x1="71.9" y1="598.8" x2="71.9" y2="601.8" stroke="#231f20" stroke-width="1.1"/>
<text x="0" y="0" font-size="7.5" text-anchor="end" textLength="10" lengthAdjust="spacingAndGlyphs" transform="translate(75.1 611.2) rotate(-45)">2.0</text>
<line x1="78.47" y1="598.8" x2="78.47" y2="600.7" stroke="#231f20" stroke-width="0.9"/>
<line x1="85.05" y1="598.8" x2="85.05" y2="601.8" stroke="#231f20" stroke-width="1.1"/>
<text x="0" y="0" font-size="7.5" text-anchor="end" textLength="10" lengthAdjust="spacingAndGlyphs" transform="translate(88.25 611.2) rotate(-45)">3.0</text>
<line x1="91.62" y1="598.8" x2="91.62" y2="600.7" stroke="#231f20" stroke-width="0.9"/>
<line x1="98.2" y1="598.8" x2="98.2" y2="601.8" stroke="#231f20" stroke-width="1.1"/>
<text x="0" y="0" font-size="7.5" text-anchor="end" textLength="10" lengthAdjust="spacingAndGlyphs" transform="translate(101.4 611.2) rotate(-45)">4.0</text>
<line x1="104.78" y1="598.8" x2="104.78" y2="600.7" stroke="#231f20" stroke-width="0.9"/>
<line x1="111.35" y1="598.8" x2="111.35" y2="601.8" stroke="#231f20" stroke-width="1.1"/>
<text x="0" y="0" font-size="7.5" text-anchor="end" textLength="10" lengthAdjust="spacingAndGlyphs" transform="translate(114.55 611.2) rotate(-45)">5.0</text>
<text x="57.7" y="534.4" font-size="7.6" textLength="30.2" lengthAdjust="spacingAndGlyphs">HbS:98%</text>
<line x1="90.2" y1="531.9" x2="100.4" y2="531.9" stroke="#3c3c3c" stroke-width="0.9"/>
<polyline fill="none" stroke="#b3103c" stroke-width="1.1" stroke-linejoin="round" points="128.7,596.43 128.95,596.45 129.2,596.46 129.45,596.46 129.7,596.44 129.95,596.42 130.2,596.38 130.45,596.35 130.7,596.31 130.95,596.27 131.2,596.24 131.45,596.23 131.7,596.22 131.95,596.22 132.2,596.24 132.45,596.27 132.7,596.3 132.95,596.34 133.2,596.38 133.45,596.41 133.7,596.44 133.95,596.45 134.2,596.46 134.45,596.45 134.7,596.42 134.95,596.39 135.2,596.36 135.45,596.32 135.7,596.28 135.95,596.25 136.2,596.23 136.45,596.21 136.7,596.22 136.95,596.23 137.2,596.25 137.45,596.29 137.7,596.32 137.95,596.36 138.2,596.4 138.45,596.43 138.7,596.44 138.95,596.45 139.2,596.44 139.45,596.42 139.7,596.4 139.95,596.36 140.2,596.32 140.45,596.28 140.7,596.25 140.95,596.22 141.2,596.21 141.45,596.2 141.7,596.21 141.95,596.23 142.2,596.26 142.45,596.3 142.7,596.34 142.95,596.37 143.2,596.41 143.45,596.43 143.7,596.44 143.95,596.43 144.2,596.42 144.45,596.39 144.7,596.36 144.95,596.32 145.2,596.28 145.45,596.24 145.7,596.21 145.95,596.19 146.2,596.18 146.45,596.19 146.7,596.2 146.95,596.23 147.2,596.26 147.45,596.3 147.7,596.33 147.95,596.36 148.2,596.39 148.45,596.4 148.7,596.39 148.95,596.36 149.2,596.23 149.45,595.84 149.7,594.94 149.95,593.51 150.2,592.12 150.4,591.66 150.45,591.69 150.7,592.53 150.95,593.98 151.2,595.18 151.45,595.81 151.7,596.06 151.95,596.13 152.2,596.16 152.45,596.14 152.7,596.02 152.95,595.71 153.2,595.15 153.45,594.48 153.7,594.01 153.8,593.95 153.95,594.01 154.2,594.45 154.45,595.02 154.7,595.43 154.95,595.59 155.2,595.57 155.45,595.44 155.7,595.2 155.95,594.82 156.2,594.14 156.45,592.96 156.7,590.97 156.95,587.85 157.2,583.27 157.45,576.86 157.7,567.71 157.95,554.5 158.2,544.95 158.2,544.95 158.2,544.95 158.45,554.51 158.7,567.72 158.95,576.88 159.2,583.3 159.45,587.87 159.7,590.99 159.95,592.97 160.2,594.15 160.45,594.82 160.7,595.2 160.95,595.43 161.2,595.59 161.45,595.72 161.7,595.83 161.95,595.92 162.2,596.01 162.45,596.08 162.7,596.14 162.95,596.19 163.2,596.21 163.45,596.22 163.7,596.22 163.95,596.2 164.2,596.18 164.45,596.15 164.7,596.13 164.95,596.1 165.2,596.09 165.45,596.09 165.7,596.09 165.95,596.11 166.2,596.14 166.45,596.18 166.7,596.22 166.95,596.26 167.2,596.3 167.45,596.33 167.7,596.35 167.95,596.36 168.2,596.35 168.45,596.34 168.7,596.31 168.95,596.27 169.2,596.24 169.45,596.2 169.7,596.16 169.95,596.14 170.2,596.12 170.45,596.12 170.7,596.12 170.95,596.14 171.2,596.17 171.45,596.2 171.7,596.24 171.95,596.27 172.2,596.3 172.45,596.31 172.7,596.32 172.95,596.31 173.2,596.29 173.45,596.25 173.7,596.21 173.95,596.16 174.2,596.11 174.45,596.06 174.7,596.02 174.95,595.98 175.2,595.95 175.45,595.94 175.7,595.93 175.95,595.92 176.2,595.92 176.45,595.91 176.7,595.9 176.95,595.87 177.2,595.82 177.45,595.74 177.7,595.62 177.95,595.44 178.2,595.18 178.45,594.74 178.7,593.97 178.95,592.57 179.2,590.11 179.45,586 179.7,579.68 179.95,570.58 180.2,557.68 180.45,538.14 180.7,513.16 180.8,509.27 180.8,509.27 180.95,517.46 181.2,542.88 181.45,560.81 181.7,572.84 181.95,581.35 182.2,587.18 182.45,590.88 182.7,593.05 182.95,594.23 183.2,594.85 183.45,595.18 183.7,595.37 183.95,595.49 184.2,595.57 184.45,595.64 184.7,595.7 184.95,595.76 185.2,595.82 185.45,595.88 185.7,595.95 185.95,596.02 186.2,596.09 186.45,596.15 186.7,596.2 186.95,596.24 187.2,596.27 187.45,596.28 187.7,596.28 187.95,596.26 188.2,596.24 188.45,596.21 188.7,596.18 188.95,596.16 189.2,596.13 189.45,596.12 189.7,596.12 189.95,596.13 190.2,596.16 190.45,596.19 190.7,596.23 190.95,596.27 191.2,596.31 191.45,596.35 191.7,596.38 191.95,596.4 192.2,596.4 192.45,596.39 192.7,596.38 192.95,596.35 193.2,596.31 193.45,596.28 193.7,596.24 193.95,596.21 194.2,596.19 194.45,596.18 194.7,596.19 194.95,596.2"/>
<line x1="128.7" y1="597.7" x2="195" y2="597.7" stroke="#9a9a9a" stroke-width="0.5"/>
<line x1="128.7" y1="505.6" x2="128.7" y2="599.7" stroke="#231f20" stroke-width="1.45"/>
<line x1="125.7" y1="599" x2="195" y2="599" stroke="#231f20" stroke-width="1.45"/>
<line x1="125.7" y1="508.5" x2="128.7" y2="508.5" stroke="#231f20" stroke-width="1.1"/>
<line x1="127" y1="514.44" x2="128.7" y2="514.44" stroke="#231f20" stroke-width="0.9"/>
<line x1="127" y1="520.38" x2="128.7" y2="520.38" stroke="#231f20" stroke-width="0.9"/>
<line x1="127" y1="526.32" x2="128.7" y2="526.32" stroke="#231f20" stroke-width="0.9"/>
<line x1="127" y1="532.26" x2="128.7" y2="532.26" stroke="#231f20" stroke-width="0.9"/>
<line x1="125.7" y1="538.2" x2="128.7" y2="538.2" stroke="#231f20" stroke-width="1.1"/>
<line x1="127" y1="544.14" x2="128.7" y2="544.14" stroke="#231f20" stroke-width="0.9"/>
<line x1="127" y1="550.08" x2="128.7" y2="550.08" stroke="#231f20" stroke-width="0.9"/>
<line x1="127" y1="556.02" x2="128.7" y2="556.02" stroke="#231f20" stroke-width="0.9"/>
<line x1="127" y1="561.96" x2="128.7" y2="561.96" stroke="#231f20" stroke-width="0.9"/>
<line x1="125.7" y1="567.9" x2="128.7" y2="567.9" stroke="#231f20" stroke-width="1.1"/>
<line x1="127" y1="573.84" x2="128.7" y2="573.84" stroke="#231f20" stroke-width="0.9"/>
<line x1="127" y1="579.78" x2="128.7" y2="579.78" stroke="#231f20" stroke-width="0.9"/>
<line x1="127" y1="585.72" x2="128.7" y2="585.72" stroke="#231f20" stroke-width="0.9"/>
<line x1="127" y1="591.66" x2="128.7" y2="591.66" stroke="#231f20" stroke-width="0.9"/>
<line x1="125.7" y1="597.6" x2="128.7" y2="597.6" stroke="#231f20" stroke-width="1.1"/>
<line x1="128.7" y1="599" x2="128.7" y2="602" stroke="#231f20" stroke-width="1.1"/>
<text x="0" y="0" font-size="7.5" text-anchor="end" textLength="10" lengthAdjust="spacingAndGlyphs" transform="translate(131.3 610.8) rotate(-45)">0.0</text>
<line x1="134.77" y1="599" x2="134.77" y2="600.9" stroke="#231f20" stroke-width="0.9"/>
<line x1="140.85" y1="599" x2="140.85" y2="602" stroke="#231f20" stroke-width="1.1"/>
<text x="0" y="0" font-size="7.5" text-anchor="end" textLength="10" lengthAdjust="spacingAndGlyphs" transform="translate(143.45 610.8) rotate(-45)">1.0</text>
<line x1="146.92" y1="599" x2="146.92" y2="600.9" stroke="#231f20" stroke-width="0.9"/>
<line x1="153" y1="599" x2="153" y2="602" stroke="#231f20" stroke-width="1.1"/>
<text x="0" y="0" font-size="7.5" text-anchor="end" textLength="10" lengthAdjust="spacingAndGlyphs" transform="translate(155.6 610.8) rotate(-45)">2.0</text>
<line x1="159.07" y1="599" x2="159.07" y2="600.9" stroke="#231f20" stroke-width="0.9"/>
<line x1="165.15" y1="599" x2="165.15" y2="602" stroke="#231f20" stroke-width="1.1"/>
<text x="0" y="0" font-size="7.5" text-anchor="end" textLength="10" lengthAdjust="spacingAndGlyphs" transform="translate(167.75 610.8) rotate(-45)">3.0</text>
<line x1="171.22" y1="599" x2="171.22" y2="600.9" stroke="#231f20" stroke-width="0.9"/>
<line x1="177.3" y1="599" x2="177.3" y2="602" stroke="#231f20" stroke-width="1.1"/>
<text x="0" y="0" font-size="7.5" text-anchor="end" textLength="10" lengthAdjust="spacingAndGlyphs" transform="translate(179.9 610.8) rotate(-45)">4.0</text>
<line x1="183.38" y1="599" x2="183.38" y2="600.9" stroke="#231f20" stroke-width="0.9"/>
<line x1="189.45" y1="599" x2="189.45" y2="602" stroke="#231f20" stroke-width="1.1"/>
<text x="0" y="0" font-size="7.5" text-anchor="end" textLength="10" lengthAdjust="spacingAndGlyphs" transform="translate(192.05 610.8) rotate(-45)">5.0</text>
<text x="134" y="524.4" font-size="7.6" textLength="32.3" lengthAdjust="spacingAndGlyphs">HbS: 55%</text>
<line x1="168.7" y1="522" x2="178.8" y2="522" stroke="#3c3c3c" stroke-width="0.9"/>
<text x="130.8" y="541.2" font-size="7.6" textLength="31.7" lengthAdjust="spacingAndGlyphs">HbA:42%</text>
<polyline fill="none" stroke="#231f20" stroke-width="0.8" points="147.5,542.7 147.5,554.2 157.7,554.2"/>
<polyline fill="none" stroke="#b3103c" stroke-width="1.1" stroke-linejoin="round" points="206.9,594.53 207.15,594.51 207.4,594.48 207.65,594.44 207.9,594.41 208.15,594.37 208.4,594.33 208.65,594.31 208.9,594.3 209.15,594.29 209.4,594.31 209.65,594.33 209.9,594.36 210.15,594.39 210.4,594.43 210.65,594.47 210.9,594.5 211.15,594.52 211.4,594.53 211.65,594.52 211.9,594.5 212.15,594.48 212.4,594.44 212.65,594.4 212.9,594.36 213.15,594.33 213.4,594.3 213.65,594.28 213.9,594.27 214.15,594.28 214.4,594.3 214.65,594.33 214.9,594.36 215.15,594.4 215.4,594.43 215.65,594.46 215.9,594.49 216.15,594.5 216.4,594.5 216.65,594.48 216.9,594.46 217.15,594.42 217.4,594.38 217.65,594.34 217.9,594.3 218.15,594.27 218.4,594.25 218.65,594.24 218.9,594.24 219.15,594.25 219.4,594.27 219.65,594.3 219.9,594.34 220.15,594.37 220.4,594.4 220.65,594.43 220.9,594.44 221.15,594.44 221.4,594.43 221.65,594.4 221.9,594.37 222.15,594.32 222.4,594.28 222.65,594.24 222.9,594.2 223.15,594.16 223.4,594.14 223.65,594.14 223.9,594.14 224.15,594.15 224.4,594.17 224.65,594.2 224.9,594.23 225.15,594.25 225.4,594.26 225.65,594.27 225.9,594.26 226.15,594.24 226.4,594.21 226.65,594.16 226.9,594.1 227.15,594.03 227.4,593.95 227.65,593.84 227.9,593.6 228.15,593.06 228.4,591.91 228.65,589.84 228.9,586.81 229.15,583.41 229.4,580.77 229.6,579.98 229.65,580 229.9,581.42 230.15,584.27 230.4,587.3 230.65,589.5 230.9,590.49 231.15,590.3 231.4,588.99 231.65,586.49 231.9,582.93 232.15,579.08 232.3,577.03 232.4,575.85 232.65,573.32 232.9,570.58 233.15,566.69 233.4,561.34 233.65,554.54 233.9,546.06 234.15,535.37 234.4,522.51 234.65,511.2 234.8,508.72 234.8,508.72 234.9,509.71 235.15,519.32 235.4,531.93 235.65,542.69 235.9,551.14 236.15,557.94 236.4,563.61 236.65,568.45 236.9,572.61 237.15,576.18 237.4,579.21 237.5,580.28 237.65,581.76 237.9,583.91 238.15,585.71 238.4,587.22 238.65,588.49 238.9,589.56 239.15,590.47 239.4,591.23 239.65,591.87 239.9,592.4 240.15,592.82 240.4,593.15 240.65,593.4 240.9,593.58 241.15,593.71 241.4,593.8 241.65,593.85 241.9,593.88 242.15,593.9 242.4,593.91 242.65,593.93 242.9,593.95 243.15,593.99 243.4,594.03 243.65,594.07 243.9,594.13 244.15,594.18 244.4,594.23 244.65,594.28 244.9,594.32 245.15,594.34 245.4,594.35 245.65,594.35 245.9,594.34 246.15,594.31 246.4,594.28 246.65,594.25 246.9,594.22 247.15,594.2 247.4,594.19 247.65,594.18 247.9,594.19 248.15,594.21 248.4,594.24 248.65,594.28 248.9,594.33 249.15,594.37 249.4,594.41 249.65,594.44 249.9,594.46 250.15,594.47 250.4,594.46 250.65,594.45 250.9,594.42 251.15,594.39 251.4,594.35 251.65,594.31 251.9,594.29 252.15,594.26 252.4,594.25 252.65,594.25 252.9,594.27 253.15,594.29 253.4,594.33 253.65,594.37 253.9,594.41 254.15,594.45 254.4,594.48 254.65,594.5 254.9,594.51 255.15,594.51 255.4,594.49 255.65,594.47 255.9,594.43 256.15,594.4 256.4,594.36 256.65,594.32 256.9,594.25 257.15,594.08 257.4,593.57 257.65,592.41 257.9,590.42 258.15,588.08 258.4,586.54 258.5,586.39 258.65,586.77 258.9,588.65 259.15,591.05 259.4,592.93 259.65,593.96 259.9,594.37 260.15,594.48 260.4,594.49 260.65,594.46 260.9,594.43 261.15,594.39 261.4,594.35 261.65,594.33 261.9,594.31 262.15,594.3 262.4,594.3 262.65,594.32 262.9,594.35 263.15,594.38 263.4,594.42 263.65,594.46 263.9,594.49 264.15,594.52 264.4,594.54 264.65,594.54 264.9,594.54 265.15,594.52 265.4,594.49 265.65,594.45 265.9,594.41 266.15,594.38 266.4,594.34 266.65,594.32 266.9,594.31 267.15,594.31 267.4,594.32 267.65,594.34 267.9,594.38 268.15,594.41 268.4,594.45 268.65,594.49 268.9,594.52 269.15,594.54 269.4,594.55 269.65,594.55 269.9,594.53 270.15,594.5 270.4,594.47 270.65,594.43 270.9,594.39 271.15,594.36 271.4,594.33"/>
<line x1="206.9" y1="595.8" x2="271.5" y2="595.8" stroke="#9a9a9a" stroke-width="0.5"/>
<line x1="206.9" y1="504.6" x2="206.9" y2="597.7" stroke="#231f20" stroke-width="1.45"/>
<line x1="203.9" y1="597" x2="271.5" y2="597" stroke="#231f20" stroke-width="1.45"/>
<line x1="203.9" y1="507.7" x2="206.9" y2="507.7" stroke="#231f20" stroke-width="1.1"/>
<line x1="205.2" y1="513.64" x2="206.9" y2="513.64" stroke="#231f20" stroke-width="0.9"/>
<line x1="205.2" y1="519.58" x2="206.9" y2="519.58" stroke="#231f20" stroke-width="0.9"/>
<line x1="205.2" y1="525.52" x2="206.9" y2="525.52" stroke="#231f20" stroke-width="0.9"/>
<line x1="205.2" y1="531.46" x2="206.9" y2="531.46" stroke="#231f20" stroke-width="0.9"/>
<line x1="203.9" y1="537.4" x2="206.9" y2="537.4" stroke="#231f20" stroke-width="1.1"/>
<line x1="205.2" y1="543.34" x2="206.9" y2="543.34" stroke="#231f20" stroke-width="0.9"/>
<line x1="205.2" y1="549.28" x2="206.9" y2="549.28" stroke="#231f20" stroke-width="0.9"/>
<line x1="205.2" y1="555.22" x2="206.9" y2="555.22" stroke="#231f20" stroke-width="0.9"/>
<line x1="205.2" y1="561.16" x2="206.9" y2="561.16" stroke="#231f20" stroke-width="0.9"/>
<line x1="203.9" y1="567.1" x2="206.9" y2="567.1" stroke="#231f20" stroke-width="1.1"/>
<line x1="205.2" y1="573.04" x2="206.9" y2="573.04" stroke="#231f20" stroke-width="0.9"/>
<line x1="205.2" y1="578.98" x2="206.9" y2="578.98" stroke="#231f20" stroke-width="0.9"/>
<line x1="205.2" y1="584.92" x2="206.9" y2="584.92" stroke="#231f20" stroke-width="0.9"/>
<line x1="205.2" y1="590.86" x2="206.9" y2="590.86" stroke="#231f20" stroke-width="0.9"/>
<line x1="206.9" y1="597" x2="206.9" y2="600" stroke="#231f20" stroke-width="1.1"/>
<text x="0" y="0" font-size="7.5" text-anchor="end" textLength="10" lengthAdjust="spacingAndGlyphs" transform="translate(209.8 609.5) rotate(-45)">0.0</text>
<line x1="212.93" y1="597" x2="212.93" y2="598.9" stroke="#231f20" stroke-width="0.9"/>
<line x1="218.95" y1="597" x2="218.95" y2="600" stroke="#231f20" stroke-width="1.1"/>
<text x="0" y="0" font-size="7.5" text-anchor="end" textLength="10" lengthAdjust="spacingAndGlyphs" transform="translate(221.85 609.5) rotate(-45)">1.0</text>
<line x1="224.98" y1="597" x2="224.98" y2="598.9" stroke="#231f20" stroke-width="0.9"/>
<line x1="231" y1="597" x2="231" y2="600" stroke="#231f20" stroke-width="1.1"/>
<text x="0" y="0" font-size="7.5" text-anchor="end" textLength="10" lengthAdjust="spacingAndGlyphs" transform="translate(233.9 609.5) rotate(-45)">2.0</text>
<line x1="237.03" y1="597" x2="237.03" y2="598.9" stroke="#231f20" stroke-width="0.9"/>
<line x1="243.05" y1="597" x2="243.05" y2="600" stroke="#231f20" stroke-width="1.1"/>
<text x="0" y="0" font-size="7.5" text-anchor="end" textLength="10" lengthAdjust="spacingAndGlyphs" transform="translate(245.95 609.5) rotate(-45)">3.0</text>
<line x1="249.08" y1="597" x2="249.08" y2="598.9" stroke="#231f20" stroke-width="0.9"/>
<line x1="255.1" y1="597" x2="255.1" y2="600" stroke="#231f20" stroke-width="1.1"/>
<text x="0" y="0" font-size="7.5" text-anchor="end" textLength="10" lengthAdjust="spacingAndGlyphs" transform="translate(258 609.5) rotate(-45)">4.0</text>
<line x1="261.12" y1="597" x2="261.12" y2="598.9" stroke="#231f20" stroke-width="0.9"/>
<line x1="267.15" y1="597" x2="267.15" y2="600" stroke="#231f20" stroke-width="1.1"/>
<text x="0" y="0" font-size="7.5" text-anchor="end" textLength="10" lengthAdjust="spacingAndGlyphs" transform="translate(270.05 609.5) rotate(-45)">5.0</text>
<text x="246.9" y="524.4" font-size="7.6" textLength="32.3" lengthAdjust="spacingAndGlyphs">HbA:92%</text>
<line x1="235.5" y1="522" x2="244.6" y2="522" stroke="#3c3c3c" stroke-width="0.9"/>
<text x="243" y="580.8" font-size="7.6" textLength="28.5" lengthAdjust="spacingAndGlyphs">HbS: 1%</text>
<polyline fill="none" stroke="#231f20" stroke-width="0.8" points="252.2,583.5 252.2,589.4 256.9,589.4"/>
<polyline fill="none" stroke="#b3103c" stroke-width="1.1" stroke-linejoin="round" points="290.8,594.05 291.05,594.03 291.3,594.03 291.55,594.04 291.8,594.06 292.05,594.1 292.3,594.13 292.55,594.17 292.8,594.21 293.05,594.24 293.3,594.26 293.55,594.27 293.8,594.27 294.05,594.25 294.3,594.23 294.55,594.19 294.8,594.15 295.05,594.12 295.3,594.08 295.55,594.05 295.8,594.04 296.05,594.03 296.3,594.04 296.55,594.06 296.8,594.08 297.05,594.12 297.3,594.16 297.55,594.2 297.8,594.23 298.05,594.25 298.3,594.27 298.55,594.27 298.8,594.26 299.05,594.24 299.3,594.2 299.55,594.17 299.8,594.13 300.05,594.09 300.3,594.06 300.55,594.04 300.8,594.03 301.05,594.03 301.3,594.05 301.55,594.07 301.8,594.11 302.05,594.15 302.3,594.18 302.55,594.22 302.8,594.25 303.05,594.26 303.3,594.27 303.55,594.26 303.8,594.24 304.05,594.22 304.3,594.18 304.55,594.14 304.8,594.1 305.05,594.07 305.3,594.05 305.55,594.03 305.8,594.03 306.05,594.04 306.3,594.06 306.55,594.1 306.8,594.13 307.05,594.17 307.3,594.21 307.55,594.24 307.8,594.26 308.05,594.27 308.3,594.27 308.55,594.25 308.8,594.23 309.05,594.19 309.3,594.15 309.55,594.12 309.8,594.08 310.05,594.05 310.3,594.04 310.55,594.03 310.8,594.03 311.05,594.04 311.3,594 311.55,593.83 311.8,593.26 312.05,591.85 312.3,589.11 312.55,584.86 312.8,579.77 313.05,575.46 313.3,573.73 313.3,573.73 313.55,575.39 313.8,579.61 314.05,584.5 314.3,588.19 314.55,589.15 314.8,586 315.05,578.31 315.3,568.8 315.5,563.28 315.55,562.43 315.8,560.83 316.05,559.92 316.3,555.23 316.55,546.23 316.8,535.22 317.05,524.67 317.3,516.37 317.5,512.16 317.55,511.49 317.8,510.49 318.05,513.2 318.3,518.9 318.55,526.55 318.8,535.1 318.8,535.1 319.05,543.69 319.3,551.75 319.55,559 319.8,565.35 320.05,570.83 320.3,575.49 320.55,579.38 320.8,582.56 321.05,585.09 321.3,587.04 321.5,588.23 321.55,588.49 321.8,589.54 322.05,590.29 322.3,590.81 322.55,591.19 322.8,591.47 323.05,591.68 323.3,591.86 323.55,592.03 323.8,592.18 324.05,592.33 324.3,592.48 324.55,592.63 324.8,592.78 325.05,592.94 325.3,593.09 325.55,593.25 325.8,593.4 326.05,593.55 326.3,593.68 326.55,593.81 326.8,593.91 327.05,594 327.3,594.06 327.55,594.11 327.8,594.13 328.05,594.14 328.3,594.13 328.55,594.11 328.8,594.09 329.05,594.06 329.3,594.04 329.55,594.02 329.8,594.02 330.05,594.02 330.3,594.04 330.55,594.07 330.8,594.1 331.05,594.14 331.3,594.18 331.55,594.22 331.8,594.25 332.05,594.26 332.3,594.27 332.55,594.26 332.8,594.24 333.05,594.22 333.3,594.18 333.55,594.14 333.8,594.1 334.05,594.07 334.3,594.05 334.55,594.03 334.8,594.03 335.05,594.04 335.3,594.06 335.55,594.1 335.8,594.13 336.05,594.17 336.3,594.21 336.55,594.24 336.8,594.26 337.05,594.26 337.3,594.25 337.55,594.21 337.8,594.15 338.05,594.07 338.3,593.97 338.55,593.84 338.8,593.69 339.05,593.54 339.3,593.41 339.55,593.31 339.8,593.25 340,593.25 340.05,593.26 340.3,593.32 340.55,593.43 340.8,593.58 341.05,593.74 341.3,593.89 341.55,594.01 341.8,594.11 342.05,594.17 342.3,594.2 342.55,594.2 342.8,594.19 343.05,594.16 343.3,594.12 343.55,594.09 343.8,594.06 344.05,594.04 344.3,594.03 344.55,594.03 344.8,594.05 345.05,594.07 345.3,594.11 345.55,594.15 345.8,594.18 346.05,594.22 346.3,594.25 346.55,594.26 346.8,594.27 347.05,594.26 347.3,594.24 347.55,594.22 347.8,594.18 348.05,594.14 348.3,594.1 348.55,594.07 348.8,594.05 349.05,594.03 349.3,594.03 349.55,594.04 349.8,594.06 350.05,594.1 350.3,594.13 350.55,594.17 350.8,594.21 351.05,594.24 351.3,594.26 351.55,594.27 351.8,594.27 352.05,594.25 352.3,594.23 352.55,594.19 352.8,594.15 353.05,594.12 353.3,594.08 353.55,594.05"/>
<line x1="290.8" y1="595.5" x2="353.7" y2="595.5" stroke="#9a9a9a" stroke-width="0.5"/>
<line x1="290.8" y1="506" x2="290.8" y2="598.1" stroke="#231f20" stroke-width="1.45"/>
<line x1="287.8" y1="597.4" x2="353.7" y2="597.4" stroke="#231f20" stroke-width="1.45"/>
<line x1="287.8" y1="509.6" x2="290.8" y2="509.6" stroke="#231f20" stroke-width="1.1"/>
<line x1="289.1" y1="515.54" x2="290.8" y2="515.54" stroke="#231f20" stroke-width="0.9"/>
<line x1="289.1" y1="521.48" x2="290.8" y2="521.48" stroke="#231f20" stroke-width="0.9"/>
<line x1="289.1" y1="527.42" x2="290.8" y2="527.42" stroke="#231f20" stroke-width="0.9"/>
<line x1="289.1" y1="533.36" x2="290.8" y2="533.36" stroke="#231f20" stroke-width="0.9"/>
<line x1="287.8" y1="539.3" x2="290.8" y2="539.3" stroke="#231f20" stroke-width="1.1"/>
<line x1="289.1" y1="545.24" x2="290.8" y2="545.24" stroke="#231f20" stroke-width="0.9"/>
<line x1="289.1" y1="551.18" x2="290.8" y2="551.18" stroke="#231f20" stroke-width="0.9"/>
<line x1="289.1" y1="557.12" x2="290.8" y2="557.12" stroke="#231f20" stroke-width="0.9"/>
<line x1="289.1" y1="563.06" x2="290.8" y2="563.06" stroke="#231f20" stroke-width="0.9"/>
<line x1="287.8" y1="569" x2="290.8" y2="569" stroke="#231f20" stroke-width="1.1"/>
<line x1="289.1" y1="574.94" x2="290.8" y2="574.94" stroke="#231f20" stroke-width="0.9"/>
<line x1="289.1" y1="580.88" x2="290.8" y2="580.88" stroke="#231f20" stroke-width="0.9"/>
<line x1="289.1" y1="586.82" x2="290.8" y2="586.82" stroke="#231f20" stroke-width="0.9"/>
<line x1="289.1" y1="592.76" x2="290.8" y2="592.76" stroke="#231f20" stroke-width="0.9"/>
<line x1="290.8" y1="597.4" x2="290.8" y2="600.4" stroke="#231f20" stroke-width="1.1"/>
<text x="0" y="0" font-size="7.5" text-anchor="end" textLength="10" lengthAdjust="spacingAndGlyphs" transform="translate(294.4 608.2) rotate(-45)">0.0</text>
<line x1="296.8" y1="597.4" x2="296.8" y2="599.3" stroke="#231f20" stroke-width="0.9"/>
<line x1="302.8" y1="597.4" x2="302.8" y2="600.4" stroke="#231f20" stroke-width="1.1"/>
<text x="0" y="0" font-size="7.5" text-anchor="end" textLength="10" lengthAdjust="spacingAndGlyphs" transform="translate(306.4 608.2) rotate(-45)">1.0</text>
<line x1="308.8" y1="597.4" x2="308.8" y2="599.3" stroke="#231f20" stroke-width="0.9"/>
<line x1="314.8" y1="597.4" x2="314.8" y2="600.4" stroke="#231f20" stroke-width="1.1"/>
<text x="0" y="0" font-size="7.5" text-anchor="end" textLength="10" lengthAdjust="spacingAndGlyphs" transform="translate(318.4 608.2) rotate(-45)">2.0</text>
<line x1="320.8" y1="597.4" x2="320.8" y2="599.3" stroke="#231f20" stroke-width="0.9"/>
<line x1="326.8" y1="597.4" x2="326.8" y2="600.4" stroke="#231f20" stroke-width="1.1"/>
<text x="0" y="0" font-size="7.5" text-anchor="end" textLength="10" lengthAdjust="spacingAndGlyphs" transform="translate(330.4 608.2) rotate(-45)">3.0</text>
<line x1="332.8" y1="597.4" x2="332.8" y2="599.3" stroke="#231f20" stroke-width="0.9"/>
<line x1="338.8" y1="597.4" x2="338.8" y2="600.4" stroke="#231f20" stroke-width="1.1"/>
<text x="0" y="0" font-size="7.5" text-anchor="end" textLength="10" lengthAdjust="spacingAndGlyphs" transform="translate(342.4 608.2) rotate(-45)">4.0</text>
<line x1="344.8" y1="597.4" x2="344.8" y2="599.3" stroke="#231f20" stroke-width="0.9"/>
<line x1="350.8" y1="597.4" x2="350.8" y2="600.4" stroke="#231f20" stroke-width="1.1"/>
<text x="0" y="0" font-size="7.5" text-anchor="end" textLength="10" lengthAdjust="spacingAndGlyphs" transform="translate(354.4 608.2) rotate(-45)">5.0</text>
<text x="332.4" y="525" font-size="7.6" textLength="31.9" lengthAdjust="spacingAndGlyphs">HbA:98%</text>
<line x1="318.9" y1="522.4" x2="329.9" y2="522.4" stroke="#3c3c3c" stroke-width="0.9"/>
<rect x="428" y="491.8" width="9" height="8.7" fill="#a3002a"/>
<text x="440.6" y="498.7" font-size="7.6" textLength="13.7" lengthAdjust="spacingAndGlyphs">HbS</text>
<rect x="465.2" y="491.8" width="8.9" height="8.7" fill="#2d4a80"/>
<text x="477.7" y="498.7" font-size="7.6" textLength="15.1" lengthAdjust="spacingAndGlyphs">HbA</text>
<rect x="416.7" y="516.5" width="10.4" height="80.7" fill="#a3002a"/>
<rect x="442.4" y="517.1" width="10.4" height="45.6" fill="#a3002a"/>
<rect x="442.4" y="562.7" width="10.4" height="34.5" fill="#2d4a80"/>
<rect x="468.3" y="519.4" width="10.1" height="2" fill="#a3002a"/>
<rect x="468.3" y="521.4" width="10.1" height="75.8" fill="#2d4a80"/>
<rect x="493.9" y="515" width="10.4" height="1.6" fill="#a3002a"/>
<rect x="493.9" y="516.6" width="10.4" height="80.6" fill="#2d4a80"/>
<line x1="421.9" y1="514.2" x2="421.9" y2="518.5" stroke="#111" stroke-width="1.05"/>
<line x1="420.3" y1="514.2" x2="423.5" y2="514.2" stroke="#111" stroke-width="1"/>
<line x1="420.3" y1="518.5" x2="423.5" y2="518.5" stroke="#111" stroke-width="1"/>
<line x1="447.6" y1="514" x2="447.6" y2="520.4" stroke="#111" stroke-width="1.05"/>
<line x1="446" y1="514" x2="449.2" y2="514" stroke="#111" stroke-width="1"/>
<line x1="446" y1="520.4" x2="449.2" y2="520.4" stroke="#111" stroke-width="1"/>
<line x1="447.6" y1="556.3" x2="447.6" y2="569.4" stroke="#111" stroke-width="1.05"/>
<line x1="446" y1="556.3" x2="449.2" y2="556.3" stroke="#111" stroke-width="1"/>
<line x1="446" y1="569.4" x2="449.2" y2="569.4" stroke="#111" stroke-width="1"/>
<line x1="473.4" y1="513.5" x2="473.4" y2="528.8" stroke="#111" stroke-width="1.05"/>
<line x1="471.8" y1="513.5" x2="475" y2="513.5" stroke="#111" stroke-width="1"/>
<line x1="471.8" y1="528.8" x2="475" y2="528.8" stroke="#111" stroke-width="1"/>
<circle cx="473.4" cy="520" r="0.9" fill="#111"/>
<line x1="499.1" y1="514" x2="499.1" y2="518.6" stroke="#111" stroke-width="1.05"/>
<line x1="497.5" y1="514" x2="500.7" y2="514" stroke="#111" stroke-width="1"/>
<line x1="497.5" y1="518.6" x2="500.7" y2="518.6" stroke="#111" stroke-width="1"/>
<circle cx="499.1" cy="516.2" r="0.9" fill="#111"/>
<text x="447.6" y="513.6" font-size="6.8" text-anchor="middle" font-weight="bold" class="s">*</text>
<text x="473.4" y="514" font-size="6.8" text-anchor="middle" font-weight="bold" class="s">*</text>
<text x="499.1" y="514" font-size="6.8" text-anchor="middle" font-weight="bold" class="s">*</text>
<line x1="409.4" y1="511.3" x2="409.4" y2="597.85" stroke="#231f20" stroke-width="1.7"/>
<line x1="408.75" y1="597.2" x2="511.7" y2="597.2" stroke="#231f20" stroke-width="1.7"/>
<line x1="405.5" y1="514.6" x2="409.4" y2="514.6" stroke="#231f20" stroke-width="1.2"/>
<text x="401.9" y="517.2" font-size="7.2" text-anchor="end" textLength="11.85" lengthAdjust="spacingAndGlyphs">100</text>
<line x1="405.5" y1="531.2" x2="409.4" y2="531.2" stroke="#231f20" stroke-width="1.2"/>
<text x="401.9" y="533.8" font-size="7.2" text-anchor="end" textLength="7.9" lengthAdjust="spacingAndGlyphs">80</text>
<line x1="405.5" y1="547.7" x2="409.4" y2="547.7" stroke="#231f20" stroke-width="1.2"/>
<text x="401.9" y="550.3" font-size="7.2" text-anchor="end" textLength="7.9" lengthAdjust="spacingAndGlyphs">60</text>
<line x1="405.5" y1="564.2" x2="409.4" y2="564.2" stroke="#231f20" stroke-width="1.2"/>
<text x="401.9" y="566.8" font-size="7.2" text-anchor="end" textLength="7.9" lengthAdjust="spacingAndGlyphs">40</text>
<line x1="405.5" y1="580.6" x2="409.4" y2="580.6" stroke="#231f20" stroke-width="1.2"/>
<text x="401.9" y="583.2" font-size="7.2" text-anchor="end" textLength="7.9" lengthAdjust="spacingAndGlyphs">20</text>
<line x1="405.5" y1="597" x2="409.4" y2="597" stroke="#231f20" stroke-width="1.2"/>
<text x="401.9" y="599.6" font-size="7.2" text-anchor="end" textLength="3.95" lengthAdjust="spacingAndGlyphs">0</text>
<text transform="translate(384 570) rotate(-90)" font-size="9.1" textLength="31.9" lengthAdjust="spacingAndGlyphs">% Hb (%)</text>
<text x="409" y="607.6" font-size="7.6" textLength="24" lengthAdjust="spacingAndGlyphs">Vehicle</text>
<text x="413.5" y="616.4" font-size="7.6" textLength="15.5" lengthAdjust="spacingAndGlyphs">(6 w)</text>
<text x="442.4" y="607.6" font-size="7.6" textLength="11" lengthAdjust="spacingAndGlyphs">1 w</text>
<text x="467.9" y="607.6" font-size="7.6" textLength="11.1" lengthAdjust="spacingAndGlyphs">3 w</text>
<text x="493.3" y="607.6" font-size="7.6" textLength="11.7" lengthAdjust="spacingAndGlyphs">6 w</text>
<line x1="438" y1="612" x2="508.1" y2="612" stroke="#231f20" stroke-width="0.8"/>
<text x="446.5" y="621.4" font-size="7.6" textLength="53.5" lengthAdjust="spacingAndGlyphs">RBC transfusion</text>
<!-- Panel E -->
<text x="8.9" y="659.1" font-size="12.2" textLength="7.8" lengthAdjust="spacingAndGlyphs" font-weight="bold">E</text>
<text x="77.3" y="660.7" font-size="7.6" textLength="45.2" lengthAdjust="spacingAndGlyphs">Bone Marrow</text>
<text x="214" y="660.7" font-size="7.6" textLength="23" lengthAdjust="spacingAndGlyphs">Spleen</text>
<rect x="57.1" y="668.3" width="37.2" height="12.5" fill="#d9dbdb"/>
<text x="64" y="677" font-size="7.6" textLength="23.9" lengthAdjust="spacingAndGlyphs">Vehicle</text>
<rect x="98.4" y="668.3" width="53.9" height="12.5" fill="#d9dbdb"/>
<text x="106.5" y="677" font-size="7.6" textLength="37.5" lengthAdjust="spacingAndGlyphs">Transfusion</text>
<rect x="182.7" y="668.3" width="36.9" height="12.5" fill="#d9dbdb"/>
<text x="189.4" y="677" font-size="7.6" textLength="23.6" lengthAdjust="spacingAndGlyphs">Vehicle</text>
<rect x="223.5" y="668.3" width="54.2" height="12.5" fill="#d9dbdb"/>
<text x="231.7" y="677" font-size="7.6" textLength="37.5" lengthAdjust="spacingAndGlyphs">Transfusion</text>
<text transform="translate(33.5 772.7) rotate(-90)" font-size="9.5" textLength="94.5" lengthAdjust="spacingAndGlyphs">CD44+ Ter119+ Fsc<tspan font-size="5.4" dy="-3.4">high</tspan><tspan dy="3.4"> (%)</tspan></text>
<line x1="55" y1="683" x2="55" y2="769.2" stroke="#231f20" stroke-width="1.7"/>
<line x1="54.15" y1="768.4" x2="144.6" y2="768.4" stroke="#231f20" stroke-width="1.6"/>
<line x1="51.2" y1="686.2" x2="55" y2="686.2" stroke="#231f20" stroke-width="1.2"/>
<text x="48.1" y="688.8" font-size="7.2" text-anchor="end" textLength="8.3" lengthAdjust="spacingAndGlyphs">50</text>
<line x1="51.2" y1="702.5" x2="55" y2="702.5" stroke="#231f20" stroke-width="1.2"/>
<text x="48.1" y="705.1" font-size="7.2" text-anchor="end" textLength="8.3" lengthAdjust="spacingAndGlyphs">40</text>
<line x1="51.2" y1="719" x2="55" y2="719" stroke="#231f20" stroke-width="1.2"/>
<text x="48.1" y="721.6" font-size="7.2" text-anchor="end" textLength="8.3" lengthAdjust="spacingAndGlyphs">30</text>
<line x1="51.2" y1="735.4" x2="55" y2="735.4" stroke="#231f20" stroke-width="1.2"/>
<text x="48.1" y="738" font-size="7.2" text-anchor="end" textLength="8.3" lengthAdjust="spacingAndGlyphs">20</text>
<line x1="51.2" y1="751.9" x2="55" y2="751.9" stroke="#231f20" stroke-width="1.2"/>
<text x="48.1" y="754.5" font-size="7.2" text-anchor="end" textLength="8.3" lengthAdjust="spacingAndGlyphs">10</text>
<line x1="51.2" y1="768.3" x2="55" y2="768.3" stroke="#231f20" stroke-width="1.2"/>
<text x="48.1" y="770.9" font-size="7.2" text-anchor="end" textLength="4.15" lengthAdjust="spacingAndGlyphs">0</text>
<line x1="65.4" y1="768.3" x2="65.4" y2="771.7" stroke="#231f20" stroke-width="1.2"/>
<line x1="88.1" y1="768.3" x2="88.1" y2="771.7" stroke="#231f20" stroke-width="1.2"/>
<line x1="110.8" y1="768.3" x2="110.8" y2="771.7" stroke="#231f20" stroke-width="1.2"/>
<line x1="133.5" y1="768.3" x2="133.5" y2="771.7" stroke="#231f20" stroke-width="1.2"/>
<rect x="58.3" y="722.5" width="14.8" height="9.2" fill="none" stroke="#4a67a3" stroke-width="1"/>
<line x1="58.3" y1="728.3" x2="73.1" y2="728.3" stroke="#4a67a3" stroke-width="1"/>
<rect x="80.8" y="693.8" width="14.8" height="17.4" fill="none" stroke="#c4284f" stroke-width="1"/>
<line x1="80.8" y1="706.3" x2="95.6" y2="706.3" stroke="#c4284f" stroke-width="1"/>
<rect x="103.7" y="745.8" width="14.4" height="21.8" fill="none" stroke="#e29a2e" stroke-width="1"/>
<line x1="103.7" y1="764" x2="118.1" y2="764" stroke="#e29a2e" stroke-width="1"/>
<rect x="126.2" y="735.6" width="14.6" height="30.7" fill="none" stroke="#f1c74c" stroke-width="1"/>
<line x1="126.2" y1="764" x2="140.8" y2="764" stroke="#f1c74c" stroke-width="1"/>
<text x="88.1" y="692" font-size="6.8" text-anchor="middle" font-weight="bold" class="s">*</text>
<ellipse cx="110.8" cy="723.5" rx="1.45" ry="1.15" fill="none" stroke="#231f20" stroke-width="0.8"/>
<ellipse cx="133.5" cy="723.5" rx="1.45" ry="1.15" fill="none" stroke="#231f20" stroke-width="0.8"/>
<text x="60.6" y="782.3" font-size="7.6" textLength="10.6" lengthAdjust="spacingAndGlyphs">AA</text>
<text x="84" y="782.3" font-size="7.6" textLength="8.2" lengthAdjust="spacingAndGlyphs">SS</text>
<text x="106.7" y="782.3" font-size="7.6" textLength="8.2" lengthAdjust="spacingAndGlyphs">SS</text>
<text x="129.4" y="782.3" font-size="7.6" textLength="8.2" lengthAdjust="spacingAndGlyphs">SS</text>
<text x="104.2" y="790.6" font-size="7" textLength="13.5" lengthAdjust="spacingAndGlyphs">(3w)</text>
<text x="126.7" y="790.6" font-size="7" textLength="13.5" lengthAdjust="spacingAndGlyphs">(6w)</text>
<line x1="180.5" y1="682.7" x2="180.5" y2="746.6" stroke="#231f20" stroke-width="1.7"/>
<line x1="180.5" y1="752.9" x2="180.5" y2="769.1" stroke="#231f20" stroke-width="1.7"/>
<line x1="178.8" y1="746.8" x2="182.3" y2="746.8" stroke="#231f20" stroke-width="1"/>
<line x1="179.65" y1="768.3" x2="270.2" y2="768.3" stroke="#231f20" stroke-width="1.6"/>
<line x1="176.9" y1="685.4" x2="180.4" y2="685.4" stroke="#231f20" stroke-width="1.2"/>
<text x="173" y="688" font-size="7.2" text-anchor="end" textLength="7.6" lengthAdjust="spacingAndGlyphs">50</text>
<line x1="176.9" y1="699.4" x2="180.4" y2="699.4" stroke="#231f20" stroke-width="1.2"/>
<text x="173" y="702" font-size="7.2" text-anchor="end" textLength="7.6" lengthAdjust="spacingAndGlyphs">40</text>
<line x1="176.9" y1="713.3" x2="180.4" y2="713.3" stroke="#231f20" stroke-width="1.2"/>
<text x="173" y="715.9" font-size="7.2" text-anchor="end" textLength="7.6" lengthAdjust="spacingAndGlyphs">30</text>
<line x1="176.9" y1="727.3" x2="180.4" y2="727.3" stroke="#231f20" stroke-width="1.2"/>
<text x="173" y="729.9" font-size="7.2" text-anchor="end" textLength="7.6" lengthAdjust="spacingAndGlyphs">20</text>
<line x1="176.9" y1="741.2" x2="180.4" y2="741.2" stroke="#231f20" stroke-width="1.2"/>
<text x="173" y="743.8" font-size="7.2" text-anchor="end" textLength="7.6" lengthAdjust="spacingAndGlyphs">10</text>
<line x1="176.9" y1="753.3" x2="181.9" y2="753.3" stroke="#231f20" stroke-width="1"/>
<text x="173.1" y="755.9" font-size="7.2" text-anchor="end" textLength="10.2" lengthAdjust="spacingAndGlyphs">0.5</text>
<line x1="176.9" y1="768.3" x2="180.4" y2="768.3" stroke="#231f20" stroke-width="1.2"/>
<text x="173" y="771" font-size="7.2" text-anchor="end" textLength="3.9" lengthAdjust="spacingAndGlyphs">0</text>
<line x1="191.3" y1="768.3" x2="191.3" y2="771.6" stroke="#231f20" stroke-width="1.2"/>
<line x1="214" y1="768.3" x2="214" y2="771.6" stroke="#231f20" stroke-width="1.2"/>
<line x1="236.5" y1="768.3" x2="236.5" y2="771.6" stroke="#231f20" stroke-width="1.2"/>
<line x1="258.7" y1="768.3" x2="258.7" y2="771.6" stroke="#231f20" stroke-width="1.2"/>
<rect x="183.7" y="732.7" width="15" height="11" fill="none" stroke="#4a67a3" stroke-width="1"/>
<line x1="183.7" y1="736.2" x2="198.7" y2="736.2" stroke="#4a67a3" stroke-width="1"/>
<rect x="206.3" y="701.3" width="15.2" height="23.3" fill="none" stroke="#c4284f" stroke-width="1"/>
<line x1="206.3" y1="717.7" x2="221.5" y2="717.7" stroke="#c4284f" stroke-width="1"/>
<rect x="228.8" y="766" width="14.9" height="2" fill="#e29a2e"/>
<rect x="251.3" y="759.2" width="15" height="8.4" fill="none" stroke="#f1c74c" stroke-width="1"/>
<text x="214" y="701.5" font-size="6.8" text-anchor="middle" font-weight="bold" class="s">*</text>
<ellipse cx="236.4" cy="749" rx="1.45" ry="1.15" fill="none" stroke="#231f20" stroke-width="0.8"/>
<ellipse cx="258.7" cy="749" rx="1.45" ry="1.15" fill="none" stroke="#231f20" stroke-width="0.8"/>
<text x="186.5" y="782.3" font-size="7.6" textLength="10" lengthAdjust="spacingAndGlyphs">AA</text>
<text x="210" y="782.3" font-size="7.6" textLength="8.2" lengthAdjust="spacingAndGlyphs">SS</text>
<text x="232.4" y="782.3" font-size="7.6" textLength="8.2" lengthAdjust="spacingAndGlyphs">SS</text>
<text x="254.6" y="782.3" font-size="7.6" textLength="8.2" lengthAdjust="spacingAndGlyphs">SS</text>
<text x="229.2" y="790.6" font-size="7" textLength="13.9" lengthAdjust="spacingAndGlyphs">(3w)</text>
<text x="251.9" y="790.6" font-size="7" textLength="13.9" lengthAdjust="spacingAndGlyphs">(6w)</text>
<rect x="0.5" y="0.5" width="519" height="800" fill="none" stroke="#000" stroke-width="1"/>
</svg>
</body>
</html>
